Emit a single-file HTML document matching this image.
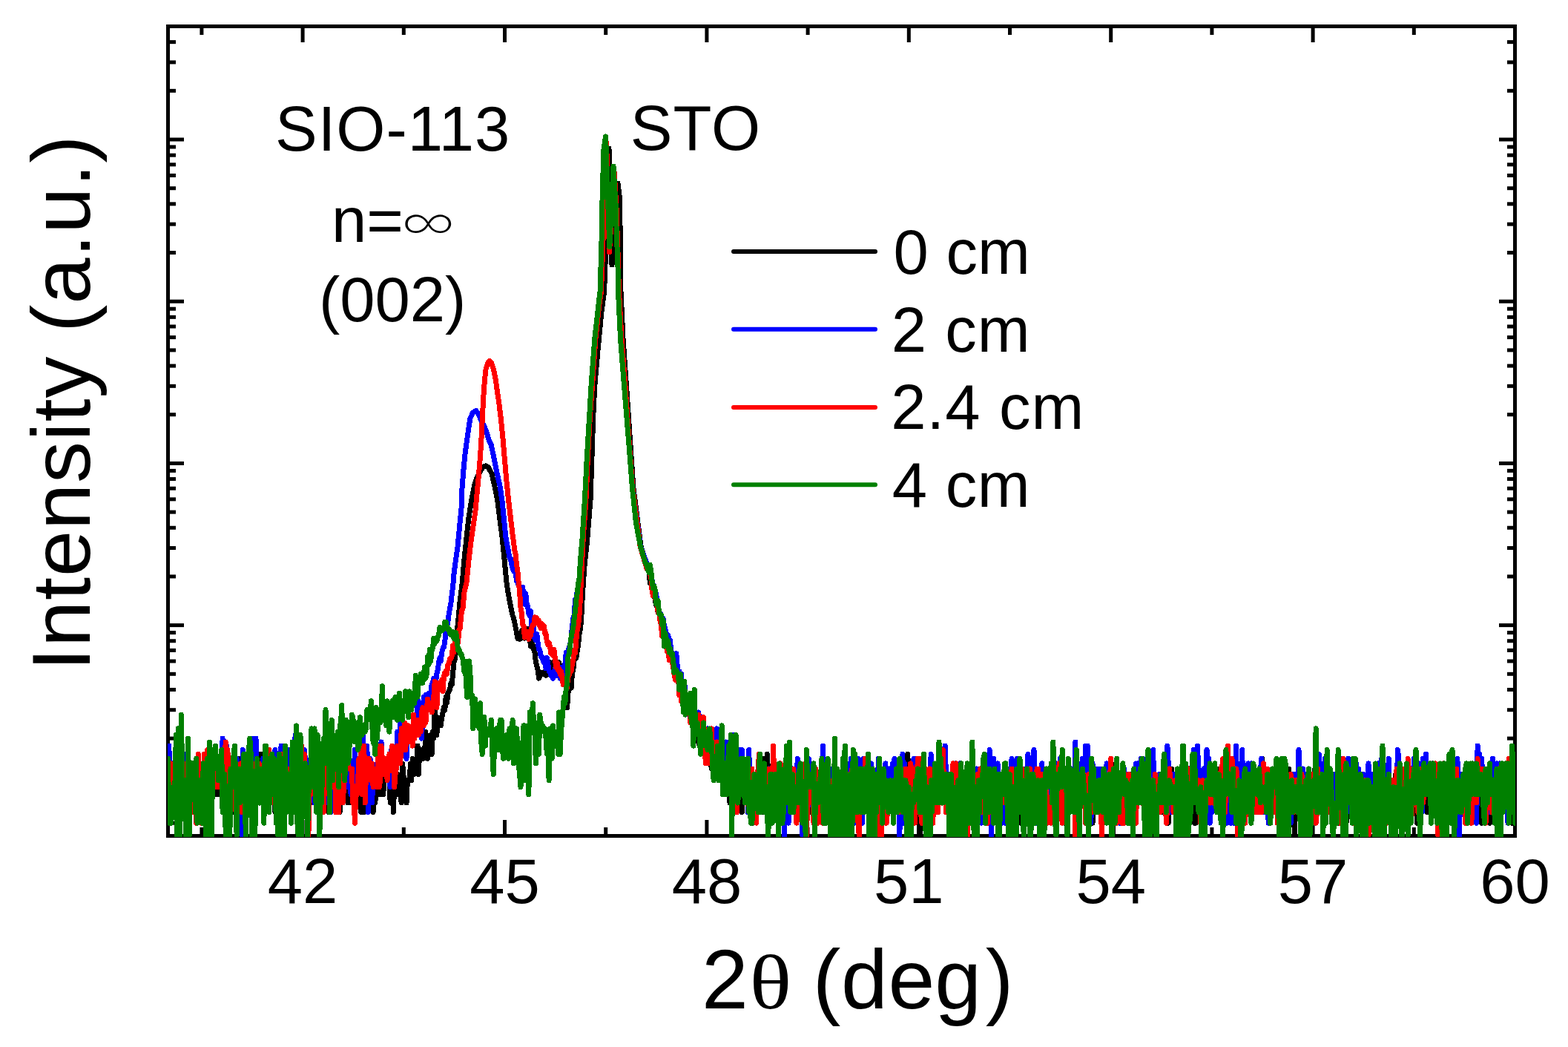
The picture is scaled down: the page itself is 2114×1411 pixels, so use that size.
<!DOCTYPE html>
<html><head><meta charset="utf-8"><style>
html,body{margin:0;padding:0;background:#fff;}
svg{display:block;}
text{font-family:"Liberation Sans",Arial,sans-serif;fill:#000;}
</style></head><body>
<svg width="2114" height="1411" viewBox="0 0 2114 1411">
<rect x="226.5" y="35.5" width="1816" height="1091" fill="none" stroke="#000" stroke-width="5"/>
<g fill="#000">
<rect x="405.60" y="1105.00" width="5.00" height="19.00"/>
<rect x="405.60" y="38.00" width="5.00" height="19.00"/>
<rect x="678.00" y="1105.00" width="5.00" height="19.00"/>
<rect x="678.00" y="38.00" width="5.00" height="19.00"/>
<rect x="950.40" y="1105.00" width="5.00" height="19.00"/>
<rect x="950.40" y="38.00" width="5.00" height="19.00"/>
<rect x="1222.80" y="1105.00" width="5.00" height="19.00"/>
<rect x="1222.80" y="38.00" width="5.00" height="19.00"/>
<rect x="1495.20" y="1105.00" width="5.00" height="19.00"/>
<rect x="1495.20" y="38.00" width="5.00" height="19.00"/>
<rect x="1767.60" y="1105.00" width="5.00" height="19.00"/>
<rect x="1767.60" y="38.00" width="5.00" height="19.00"/>
<rect x="269.40" y="1115.00" width="5.00" height="9.00"/>
<rect x="269.40" y="38.00" width="5.00" height="9.00"/>
<rect x="541.80" y="1115.00" width="5.00" height="9.00"/>
<rect x="541.80" y="38.00" width="5.00" height="9.00"/>
<rect x="814.20" y="1115.00" width="5.00" height="9.00"/>
<rect x="814.20" y="38.00" width="5.00" height="9.00"/>
<rect x="1086.60" y="1115.00" width="5.00" height="9.00"/>
<rect x="1086.60" y="38.00" width="5.00" height="9.00"/>
<rect x="1359.00" y="1115.00" width="5.00" height="9.00"/>
<rect x="1359.00" y="38.00" width="5.00" height="9.00"/>
<rect x="1631.40" y="1115.00" width="5.00" height="9.00"/>
<rect x="1631.40" y="38.00" width="5.00" height="9.00"/>
<rect x="1903.80" y="1115.00" width="5.00" height="9.00"/>
<rect x="1903.80" y="38.00" width="5.00" height="9.00"/>
<rect x="229.00" y="1106.72" width="8.00" height="5.00"/>
<rect x="2032.00" y="1106.72" width="8.00" height="5.00"/>
<rect x="229.00" y="1092.11" width="8.00" height="5.00"/>
<rect x="2032.00" y="1092.11" width="8.00" height="5.00"/>
<rect x="229.00" y="1079.46" width="8.00" height="5.00"/>
<rect x="2032.00" y="1079.46" width="8.00" height="5.00"/>
<rect x="229.00" y="1068.30" width="8.00" height="5.00"/>
<rect x="2032.00" y="1068.30" width="8.00" height="5.00"/>
<rect x="229.00" y="1058.32" width="19.00" height="5.00"/>
<rect x="2021.00" y="1058.32" width="19.00" height="5.00"/>
<rect x="229.00" y="992.63" width="8.00" height="5.00"/>
<rect x="2032.00" y="992.63" width="8.00" height="5.00"/>
<rect x="229.00" y="954.21" width="8.00" height="5.00"/>
<rect x="2032.00" y="954.21" width="8.00" height="5.00"/>
<rect x="229.00" y="926.95" width="8.00" height="5.00"/>
<rect x="2032.00" y="926.95" width="8.00" height="5.00"/>
<rect x="229.00" y="905.80" width="8.00" height="5.00"/>
<rect x="2032.00" y="905.80" width="8.00" height="5.00"/>
<rect x="229.00" y="888.52" width="8.00" height="5.00"/>
<rect x="2032.00" y="888.52" width="8.00" height="5.00"/>
<rect x="229.00" y="873.91" width="8.00" height="5.00"/>
<rect x="2032.00" y="873.91" width="8.00" height="5.00"/>
<rect x="229.00" y="861.26" width="8.00" height="5.00"/>
<rect x="2032.00" y="861.26" width="8.00" height="5.00"/>
<rect x="229.00" y="850.10" width="8.00" height="5.00"/>
<rect x="2032.00" y="850.10" width="8.00" height="5.00"/>
<rect x="229.00" y="840.12" width="19.00" height="5.00"/>
<rect x="2021.00" y="840.12" width="19.00" height="5.00"/>
<rect x="229.00" y="774.43" width="8.00" height="5.00"/>
<rect x="2032.00" y="774.43" width="8.00" height="5.00"/>
<rect x="229.00" y="736.01" width="8.00" height="5.00"/>
<rect x="2032.00" y="736.01" width="8.00" height="5.00"/>
<rect x="229.00" y="708.75" width="8.00" height="5.00"/>
<rect x="2032.00" y="708.75" width="8.00" height="5.00"/>
<rect x="229.00" y="687.60" width="8.00" height="5.00"/>
<rect x="2032.00" y="687.60" width="8.00" height="5.00"/>
<rect x="229.00" y="670.32" width="8.00" height="5.00"/>
<rect x="2032.00" y="670.32" width="8.00" height="5.00"/>
<rect x="229.00" y="655.71" width="8.00" height="5.00"/>
<rect x="2032.00" y="655.71" width="8.00" height="5.00"/>
<rect x="229.00" y="643.06" width="8.00" height="5.00"/>
<rect x="2032.00" y="643.06" width="8.00" height="5.00"/>
<rect x="229.00" y="631.90" width="8.00" height="5.00"/>
<rect x="2032.00" y="631.90" width="8.00" height="5.00"/>
<rect x="229.00" y="621.92" width="19.00" height="5.00"/>
<rect x="2021.00" y="621.92" width="19.00" height="5.00"/>
<rect x="229.00" y="556.23" width="8.00" height="5.00"/>
<rect x="2032.00" y="556.23" width="8.00" height="5.00"/>
<rect x="229.00" y="517.81" width="8.00" height="5.00"/>
<rect x="2032.00" y="517.81" width="8.00" height="5.00"/>
<rect x="229.00" y="490.55" width="8.00" height="5.00"/>
<rect x="2032.00" y="490.55" width="8.00" height="5.00"/>
<rect x="229.00" y="469.40" width="8.00" height="5.00"/>
<rect x="2032.00" y="469.40" width="8.00" height="5.00"/>
<rect x="229.00" y="452.12" width="8.00" height="5.00"/>
<rect x="2032.00" y="452.12" width="8.00" height="5.00"/>
<rect x="229.00" y="437.51" width="8.00" height="5.00"/>
<rect x="2032.00" y="437.51" width="8.00" height="5.00"/>
<rect x="229.00" y="424.86" width="8.00" height="5.00"/>
<rect x="2032.00" y="424.86" width="8.00" height="5.00"/>
<rect x="229.00" y="413.70" width="8.00" height="5.00"/>
<rect x="2032.00" y="413.70" width="8.00" height="5.00"/>
<rect x="229.00" y="403.72" width="19.00" height="5.00"/>
<rect x="2021.00" y="403.72" width="19.00" height="5.00"/>
<rect x="229.00" y="338.03" width="8.00" height="5.00"/>
<rect x="2032.00" y="338.03" width="8.00" height="5.00"/>
<rect x="229.00" y="299.61" width="8.00" height="5.00"/>
<rect x="2032.00" y="299.61" width="8.00" height="5.00"/>
<rect x="229.00" y="272.35" width="8.00" height="5.00"/>
<rect x="2032.00" y="272.35" width="8.00" height="5.00"/>
<rect x="229.00" y="251.20" width="8.00" height="5.00"/>
<rect x="2032.00" y="251.20" width="8.00" height="5.00"/>
<rect x="229.00" y="233.92" width="8.00" height="5.00"/>
<rect x="2032.00" y="233.92" width="8.00" height="5.00"/>
<rect x="229.00" y="219.31" width="8.00" height="5.00"/>
<rect x="2032.00" y="219.31" width="8.00" height="5.00"/>
<rect x="229.00" y="206.66" width="8.00" height="5.00"/>
<rect x="2032.00" y="206.66" width="8.00" height="5.00"/>
<rect x="229.00" y="195.50" width="8.00" height="5.00"/>
<rect x="2032.00" y="195.50" width="8.00" height="5.00"/>
<rect x="229.00" y="185.52" width="19.00" height="5.00"/>
<rect x="2021.00" y="185.52" width="19.00" height="5.00"/>
<rect x="229.00" y="119.83" width="8.00" height="5.00"/>
<rect x="2032.00" y="119.83" width="8.00" height="5.00"/>
<rect x="229.00" y="81.41" width="8.00" height="5.00"/>
<rect x="2032.00" y="81.41" width="8.00" height="5.00"/>
<rect x="229.00" y="54.15" width="8.00" height="5.00"/>
<rect x="2032.00" y="54.15" width="8.00" height="5.00"/>
</g>
<defs><clipPath id="cp"><rect x="226" y="35" width="1817" height="1093"/></clipPath></defs>
<g clip-path="url(#cp)" fill="none" stroke-width="7" stroke-linejoin="round" stroke-linecap="round" shape-rendering="crispEdges">
<path d="M226.5 1028.9L227.9 1051.8L229.2 1043.5L230.6 1060.8L231.9 1043.5L233.3 1060.8L234.7 1036.0L236.0 1060.8L237.4 1060.8L238.8 1060.8L240.1 1060.8L241.5 1070.8L242.8 1060.8L244.2 1082.0L245.6 1070.8L246.9 1051.8L248.3 1051.8L249.7 1051.8L251.0 1060.8L252.4 1043.5L253.7 1094.6L255.1 1060.8L256.5 1043.5L257.8 1060.8L259.2 1070.8L260.6 1051.8L261.9 1060.8L263.3 1070.8L264.6 1043.5L266.0 1060.8L267.4 1043.5L268.7 1036.0L270.1 1060.8L271.5 1036.0L272.8 1051.8L274.2 1036.0L275.5 1060.8L276.9 1051.8L278.3 1060.8L279.6 1060.8L281.0 1060.8L282.4 1043.5L283.7 1060.8L285.1 1070.8L286.4 1060.8L287.8 1022.4L289.2 1070.8L290.5 1060.8L291.9 1051.8L293.3 1070.8L294.6 1036.0L296.0 1043.5L297.3 1051.8L298.7 1070.8L300.1 1051.8L301.4 1070.8L302.8 1036.0L304.2 1060.8L305.5 1070.8L306.9 1051.8L308.2 1060.8L309.6 1022.4L311.0 1043.5L312.3 1070.8L313.7 1051.8L315.1 1094.6L316.4 1051.8L317.8 1043.5L319.1 1036.0L320.5 1070.8L321.9 1022.4L323.2 1036.0L324.6 1051.8L326.0 1043.5L327.3 1094.6L328.7 1022.4L330.0 1094.6L331.4 1036.0L332.8 1060.8L334.1 1082.0L335.5 1070.8L336.8 1028.9L338.2 1060.8L339.6 1070.8L340.9 1060.8L342.3 1043.5L343.7 1036.0L345.0 1082.0L346.4 1043.5L347.7 1043.5L349.1 1016.3L350.5 1070.8L351.8 1043.5L353.2 1016.3L354.6 1043.5L355.9 1028.9L357.3 1043.5L358.6 1043.5L360.0 1060.8L361.4 1036.0L362.7 1070.8L364.1 1070.8L365.5 1036.0L366.8 1082.0L368.2 1082.0L369.5 1060.8L370.9 1094.6L372.3 1036.0L373.6 1051.8L375.0 1060.8L376.4 1043.5L377.7 1036.0L379.1 1051.8L380.4 1082.0L381.8 1060.8L383.2 1070.8L384.5 1060.8L385.9 1036.0L387.3 1082.0L388.6 1051.8L390.0 1022.4L391.3 1060.8L392.7 1060.8L394.1 1060.8L395.4 1051.8L396.8 1043.5L398.2 1070.8L399.5 1043.5L400.9 1109.2L402.2 1060.8L403.6 1060.8L405.0 1060.8L406.3 1082.0L407.7 1070.8L409.1 1043.5L410.4 1036.0L411.8 1060.8L413.1 1036.0L414.5 1028.9L415.9 1028.9L417.2 1060.8L418.6 1082.0L420.0 1043.5L421.3 1070.8L422.7 1043.5L424.0 1036.0L425.4 1036.0L426.8 1043.5L428.1 1082.0L429.5 1028.9L430.9 1051.8L432.2 1043.5L433.6 1036.0L434.9 1060.8L436.3 1070.8L437.7 1051.8L439.0 1060.8L440.4 1060.8L441.7 1036.0L443.1 1094.6L444.5 1043.5L445.8 1043.5L447.2 1051.8L448.6 1060.8L449.9 1070.8L451.3 1028.9L452.6 1070.8L454.0 1094.6L455.4 1043.5L456.7 1010.5L458.1 1094.6L459.5 1043.5L460.8 1051.8L462.2 1082.0L463.5 1051.8L464.9 1060.8L466.3 1051.8L467.6 1060.8L469.0 1082.0L470.4 1043.5L471.7 1060.8L473.1 1051.8L474.4 1082.0L475.8 1070.8L477.2 1070.8L478.5 1051.8L479.9 1070.8L481.3 1043.5L482.6 1043.5L484.0 1051.8L485.3 1070.8L486.7 1094.6L488.1 1060.8L489.4 1060.8L490.8 1094.6L492.2 1051.8L493.5 1070.8L494.9 1070.8L496.2 1043.5L497.6 1036.0L499.0 1028.9L500.3 1070.8L501.7 1051.8L503.1 1094.6L504.4 1043.5L505.8 1082.0L507.1 1060.8L508.5 1070.8L509.9 1070.8L511.2 1070.8L512.6 1070.8L514.0 1070.8L515.3 1022.4L516.7 1070.8L518.0 1051.8L519.4 1051.8L520.8 1028.9L522.1 1043.5L523.5 1043.5L524.9 1051.8L526.2 1082.0L527.6 1070.8L528.9 1051.8L530.3 1094.6L531.7 1060.8L533.0 1060.8L534.4 1060.8L535.8 1043.5L537.1 1070.8L538.5 1070.8L539.8 1070.8L541.2 1082.0L542.6 1028.9L543.9 1043.5L545.3 1060.8L546.7 1070.8L548.0 1082.0L549.4 1051.8L550.7 1051.8L552.1 1051.8L553.5 1028.9L554.8 1051.8L556.2 1022.4L557.5 1028.9L558.9 1043.5L560.3 1036.0L561.6 1028.9L563.0 1005.1L564.4 1043.5L565.7 1010.5L567.1 1010.5L568.4 1016.3L569.8 1010.5L571.2 1022.4L572.5 1016.3L573.9 986.1L575.3 1005.1L576.6 1022.4L578.0 1005.1L579.3 995.1L580.7 990.5L582.1 1016.3L583.4 986.1L584.8 995.1L586.2 956.7L587.5 977.9L588.9 990.5L590.2 966.7L591.6 974.0L593.0 977.9L594.3 977.9L595.7 966.7L597.1 959.9L598.4 953.6L599.8 956.7L601.1 939.4L602.5 947.7L603.9 934.3L605.2 931.8L606.6 929.4L608.0 920.4L609.3 922.6L610.7 906.4L612.0 892.6L613.4 887.9L614.8 875.1L616.1 852.6L617.5 838.9L618.9 823.0L620.2 808.7L621.6 798.7L622.9 788.5L624.3 773.2L625.7 755.8L631.6 700.2L636.0 672.0L640.0 652.0L643.3 643.0L648.0 634.5L651.2 629.5L654.7 627.8L658.2 629.5L662.8 638.0L666.2 652.0L670.7 674.4L677.0 724.0L680.2 755.4L681.5 769.6L682.9 784.3L684.2 793.5L685.6 801.7L687.0 809.4L688.3 815.6L689.7 823.0L691.1 829.4L692.4 832.7L693.8 838.9L695.1 845.5L696.5 852.6L697.9 860.3L699.2 855.8L700.6 861.4L702.0 860.3L703.3 850.5L704.7 849.5L706.0 846.5L707.4 860.3L708.8 854.7L710.1 856.9L711.5 847.5L712.9 853.7L714.2 860.3L715.6 871.1L716.9 866.2L718.3 869.9L719.7 875.1L721.0 879.2L722.4 892.6L723.8 897.6L725.1 902.8L726.5 914.2L727.8 912.2L729.2 906.4L730.6 906.4L731.9 908.3L733.3 908.3L734.7 904.6L736.0 910.2L737.4 902.8L738.7 908.3L740.1 902.8L741.5 892.6L742.8 901.0L744.2 895.9L745.6 892.6L746.9 897.6L748.3 899.3L749.6 899.3L751.0 904.6L752.4 897.6L753.7 892.6L755.1 901.0L756.5 899.3L757.8 901.0L759.2 916.2L760.5 918.3L761.9 920.4L763.3 927.1L764.6 953.6L766.0 934.3L767.3 918.3L768.7 920.4L770.1 927.1L771.4 908.3L772.8 902.8L774.2 889.5L775.5 887.9L776.9 886.4L778.2 877.8L779.6 868.6L781.0 854.7L782.3 848.5L783.7 834.4L785.1 807.4L786.4 785.9L787.8 764.5L791.5 730.0L796.1 673.0L799.8 560.0L801.8 520.0L806.0 472.5L811.0 420.0L814.6 393.0L817.0 330.0L819.0 260.0L821.0 200.0L825.0 357.0L833.0 247.0L835.3 265.5L836.5 330.0L837.0 393.0L840.0 456.0L844.5 520.0L850.0 600.0L854.0 658.0L864.0 736.0L872.2 762.1L873.6 768.8L875.0 768.8L876.3 785.9L877.7 776.0L879.1 789.6L880.4 795.7L881.8 796.9L883.1 807.4L884.5 814.9L885.9 818.5L887.2 825.3L888.6 824.6L890.0 832.7L891.3 833.6L892.7 839.8L894.0 844.5L895.4 848.5L896.8 856.9L898.1 855.8L899.5 863.8L900.9 868.6L902.2 877.8L903.6 879.2L904.9 887.9L906.3 894.2L907.7 891.0L909.0 901.0L910.4 906.4L911.8 914.2L913.1 912.2L914.5 920.4L915.8 916.2L917.2 929.4L918.6 931.8L919.9 929.4L921.3 929.4L922.7 947.7L924.0 934.3L925.4 953.6L926.7 950.6L928.1 950.6L929.5 959.9L930.8 950.6L932.2 974.0L933.6 966.7L934.9 981.9L936.3 963.2L937.6 970.3L939.0 981.9L940.4 986.1L941.7 1000.0L943.1 1005.1L944.5 1000.0L945.8 995.1L947.2 990.5L948.5 1005.1L949.9 1010.5L951.3 990.5L952.6 986.1L954.0 1010.5L955.4 1022.4L956.7 995.1L958.1 1028.9L959.4 1036.0L960.8 1000.0L962.2 1043.5L963.5 1036.0L964.9 1028.9L966.3 1036.0L967.6 1016.3L969.0 1043.5L970.3 1000.0L971.7 1028.9L973.1 1022.4L974.4 1051.8L975.8 1010.5L977.1 1036.0L978.5 1043.5L979.9 1043.5L981.2 1022.4L982.6 1043.5L984.0 1082.0L985.3 1060.8L986.7 1060.8L988.0 1036.0L989.4 1060.8L990.8 1082.0L992.1 1082.0L993.5 1051.8L994.9 1082.0L996.2 1070.8L997.6 1082.0L998.9 1060.8L1000.3 1094.6L1001.7 1043.5L1003.0 1060.8L1004.4 1051.8L1005.8 1070.8L1007.1 1060.8L1008.5 1043.5L1009.8 1094.6L1011.2 1043.5L1012.6 1094.6L1013.9 1036.0L1015.3 1109.2L1016.7 1060.8L1018.0 1094.6L1019.4 1043.5L1020.7 1060.8L1022.1 1060.8L1023.5 1070.8L1024.8 1070.8L1026.2 1070.8L1027.6 1070.8L1028.9 1094.6L1030.3 1022.4L1031.6 1082.0L1033.0 1094.6L1034.4 1016.3L1035.7 1043.5L1037.1 1043.5L1038.5 1043.5L1039.8 1070.8L1041.2 1094.6L1042.5 1051.8L1043.9 1070.8L1045.3 1094.6L1046.6 1070.8L1048.0 1060.8L1049.4 1094.6L1050.7 1082.0L1052.1 1094.6L1053.4 1109.2L1054.8 1070.8L1056.2 1060.8L1057.5 1036.0L1058.9 1036.0L1060.3 1070.8L1061.6 1060.8L1063.0 1070.8L1064.3 1094.6L1065.7 1094.6L1067.1 1094.6L1068.4 1082.0L1069.8 1060.8L1071.2 1070.8L1072.5 1060.8L1073.9 1051.8L1075.2 1043.5L1076.6 1070.8L1078.0 1070.8L1079.3 1060.8L1080.7 1082.0L1082.0 1043.5L1083.4 1070.8L1084.8 1051.8L1086.1 1060.8L1087.5 1094.6L1088.9 1082.0L1090.2 1070.8L1091.6 1036.0L1092.9 1060.8L1094.3 1094.6L1095.7 1070.8L1097.0 1070.8L1098.4 1051.8L1099.8 1070.8L1101.1 1070.8L1102.5 1070.8L1103.8 1070.8L1105.2 1043.5L1106.6 1070.8L1107.9 1051.8L1109.3 1094.6L1110.7 1094.6L1112.0 1036.0L1113.4 1109.2L1114.7 1051.8L1116.1 1043.5L1117.5 1036.0L1118.8 1060.8L1120.2 1070.8L1121.6 1060.8L1122.9 1060.8L1124.3 1060.8L1125.6 1036.0L1127.0 1043.5L1128.4 1070.8L1129.7 1060.8L1131.1 1082.0L1132.5 1060.8L1133.8 1070.8L1135.2 1082.0L1136.5 1070.8L1137.9 1043.5L1139.3 1060.8L1140.6 1060.8L1142.0 1043.5L1143.4 1043.5L1144.7 1070.8L1146.1 1051.8L1147.4 1070.8L1148.8 1082.0L1150.2 1070.8L1151.5 1070.8L1152.9 1060.8L1154.3 1070.8L1155.6 1094.6L1157.0 1082.0L1158.3 1060.8L1159.7 1060.8L1161.1 1094.6L1162.4 1043.5L1163.8 1070.8L1165.2 1082.0L1166.5 1051.8L1167.9 1060.8L1169.2 1051.8L1170.6 1043.5L1172.0 1051.8L1173.3 1070.8L1174.7 1070.8L1176.1 1060.8L1177.4 1060.8L1178.8 1060.8L1180.1 1060.8L1181.5 1070.8L1182.9 1060.8L1184.2 1070.8L1185.6 1060.8L1187.0 1051.8L1188.3 1070.8L1189.7 1094.6L1191.0 1082.0L1192.4 1070.8L1193.8 1051.8L1195.1 1060.8L1196.5 1043.5L1197.8 1051.8L1199.2 1051.8L1200.6 1070.8L1201.9 1051.8L1203.3 1070.8L1204.7 1043.5L1206.0 1060.8L1207.4 1060.8L1208.7 1082.0L1210.1 1070.8L1211.5 1094.6L1212.8 1070.8L1214.2 1070.8L1215.6 1070.8L1216.9 1022.4L1218.3 1109.2L1219.6 1070.8L1221.0 1070.8L1222.4 1094.6L1223.7 1016.3L1225.1 1043.5L1226.5 1070.8L1227.8 1060.8L1229.2 1070.8L1230.5 1082.0L1231.9 1094.6L1233.3 1060.8L1234.6 1036.0L1236.0 1082.0L1237.4 1082.0L1238.7 1036.0L1240.1 1147.6L1241.4 1094.6L1242.8 1028.9L1244.2 1094.6L1245.5 1070.8L1246.9 1043.5L1248.3 1060.8L1249.6 1094.6L1251.0 1043.5L1252.3 1060.8L1253.7 1051.8L1255.1 1070.8L1256.4 1070.8L1257.8 1082.0L1259.2 1051.8L1260.5 1070.8L1261.9 1070.8L1263.2 1051.8L1264.6 1060.8L1266.0 1051.8L1267.3 1070.8L1268.7 1043.5L1270.1 1070.8L1271.4 1036.0L1272.8 1070.8L1274.1 1051.8L1275.5 1051.8L1276.9 1082.0L1278.2 1082.0L1279.6 1070.8L1281.0 1060.8L1282.3 1051.8L1283.7 1043.5L1285.0 1070.8L1286.4 1082.0L1287.8 1082.0L1289.1 1036.0L1290.5 1094.6L1291.9 1051.8L1293.2 1082.0L1294.6 1070.8L1295.9 1094.6L1297.3 1082.0L1298.7 1051.8L1300.0 1070.8L1301.4 1070.8L1302.7 1082.0L1304.1 1070.8L1305.5 1043.5L1306.8 1109.2L1308.2 1094.6L1309.6 1043.5L1310.9 1070.8L1312.3 1109.2L1313.6 1070.8L1315.0 1082.0L1316.4 1060.8L1317.7 1051.8L1319.1 1043.5L1320.5 1060.8L1321.8 1043.5L1323.2 1043.5L1324.5 1060.8L1325.9 1070.8L1327.3 1036.0L1328.6 1094.6L1330.0 1094.6L1331.4 1094.6L1332.7 1070.8L1334.1 1051.8L1335.4 1082.0L1336.8 1070.8L1338.2 1070.8L1339.5 1094.6L1340.9 1070.8L1342.3 1070.8L1343.6 1070.8L1345.0 1036.0L1346.3 1051.8L1347.7 1060.8L1349.1 1043.5L1350.4 1094.6L1351.8 1094.6L1353.2 1070.8L1354.5 1043.5L1355.9 1060.8L1357.2 1082.0L1358.6 1043.5L1360.0 1070.8L1361.3 1051.8L1362.7 1070.8L1364.1 1060.8L1365.4 1060.8L1366.8 1043.5L1368.1 1043.5L1369.5 1109.2L1370.9 1070.8L1372.2 1060.8L1373.6 1094.6L1375.0 1060.8L1376.3 1109.2L1377.7 1094.6L1379.0 1070.8L1380.4 1070.8L1381.8 1082.0L1383.1 1060.8L1384.5 1070.8L1385.9 1082.0L1387.2 1070.8L1388.6 1109.2L1389.9 1094.6L1391.3 1060.8L1392.7 1082.0L1394.0 1082.0L1395.4 1070.8L1396.8 1070.8L1398.1 1094.6L1399.5 1051.8L1400.8 1094.6L1402.2 1070.8L1403.6 1109.2L1404.9 1060.8L1406.3 1094.6L1407.6 1070.8L1409.0 1070.8L1410.4 1094.6L1411.7 1051.8L1413.1 1060.8L1414.5 1060.8L1415.8 1060.8L1417.2 1060.8L1418.5 1028.9L1419.9 1060.8L1421.3 1082.0L1422.6 1051.8L1424.0 1043.5L1425.4 1082.0L1426.7 1060.8L1428.1 1082.0L1429.4 1070.8L1430.8 1070.8L1432.2 1060.8L1433.5 1051.8L1434.9 1109.2L1436.3 1060.8L1437.6 1070.8L1439.0 1051.8L1440.3 1060.8L1441.7 1043.5L1443.1 1082.0L1444.4 1043.5L1445.8 1070.8L1447.2 1070.8L1448.5 1082.0L1449.9 1082.0L1451.2 1070.8L1452.6 1060.8L1454.0 1060.8L1455.3 1060.8L1456.7 1070.8L1458.1 1070.8L1459.4 1043.5L1460.8 1060.8L1462.1 1060.8L1463.5 1028.9L1464.9 1028.9L1466.2 1070.8L1467.6 1070.8L1469.0 1060.8L1470.3 1070.8L1471.7 1094.6L1473.0 1109.2L1474.4 1082.0L1475.8 1094.6L1477.1 1060.8L1478.5 1094.6L1479.9 1082.0L1481.2 1094.6L1482.6 1094.6L1483.9 1043.5L1485.3 1094.6L1486.7 1094.6L1488.0 1060.8L1489.4 1060.8L1490.8 1070.8L1492.1 1060.8L1493.5 1060.8L1494.8 1060.8L1496.2 1051.8L1497.6 1082.0L1498.9 1070.8L1500.3 1126.5L1501.7 1036.0L1503.0 1043.5L1504.4 1028.9L1505.7 1051.8L1507.1 1060.8L1508.5 1060.8L1509.8 1043.5L1511.2 1043.5L1512.5 1082.0L1513.9 1070.8L1515.3 1051.8L1516.6 1060.8L1518.0 1051.8L1519.4 1070.8L1520.7 1051.8L1522.1 1070.8L1523.4 1070.8L1524.8 1043.5L1526.2 1070.8L1527.5 1070.8L1528.9 1070.8L1530.3 1070.8L1531.6 1043.5L1533.0 1060.8L1534.3 1070.8L1535.7 1060.8L1537.1 1070.8L1538.4 1060.8L1539.8 1051.8L1541.2 1070.8L1542.5 1070.8L1543.9 1060.8L1545.2 1094.6L1546.6 1028.9L1548.0 1094.6L1549.3 1051.8L1550.7 1094.6L1552.1 1094.6L1553.4 1094.6L1554.8 1082.0L1556.1 1051.8L1557.5 1070.8L1558.9 1060.8L1560.2 1094.6L1561.6 1082.0L1563.0 1070.8L1564.3 1060.8L1565.7 1094.6L1567.0 1060.8L1568.4 1036.0L1569.8 1060.8L1571.1 1094.6L1572.5 1082.0L1573.9 1082.0L1575.2 1109.2L1576.6 1070.8L1577.9 1060.8L1579.3 1036.0L1580.7 1094.6L1582.0 1060.8L1583.4 1060.8L1584.8 1082.0L1586.1 1043.5L1587.5 1070.8L1588.8 1070.8L1590.2 1060.8L1591.6 1094.6L1592.9 1070.8L1594.3 1043.5L1595.7 1070.8L1597.0 1070.8L1598.4 1043.5L1599.7 1070.8L1601.1 1109.2L1602.5 1070.8L1603.8 1094.6L1605.2 1070.8L1606.6 1082.0L1607.9 1082.0L1609.3 1060.8L1610.6 1109.2L1612.0 1109.2L1613.4 1051.8L1614.7 1060.8L1616.1 1043.5L1617.4 1060.8L1618.8 1070.8L1620.2 1094.6L1621.5 1082.0L1622.9 1109.2L1624.3 1082.0L1625.6 1109.2L1627.0 1036.0L1628.3 1094.6L1629.7 1070.8L1631.1 1060.8L1632.4 1094.6L1633.8 1060.8L1635.2 1082.0L1636.5 1043.5L1637.9 1082.0L1639.2 1043.5L1640.6 1094.6L1642.0 1060.8L1643.3 1070.8L1644.7 1036.0L1646.1 1043.5L1647.4 1082.0L1648.8 1060.8L1650.1 1070.8L1651.5 1070.8L1652.9 1094.6L1654.2 1070.8L1655.6 1043.5L1657.0 1043.5L1658.3 1070.8L1659.7 1094.6L1661.0 1060.8L1662.4 1060.8L1663.8 1036.0L1665.1 1094.6L1666.5 1070.8L1667.9 1060.8L1669.2 1070.8L1670.6 1051.8L1671.9 1109.2L1673.3 1070.8L1674.7 1043.5L1676.0 1109.2L1677.4 1051.8L1678.8 1060.8L1680.1 1070.8L1681.5 1060.8L1682.8 1060.8L1684.2 1094.6L1685.6 1070.8L1686.9 1070.8L1688.3 1094.6L1689.7 1051.8L1691.0 1060.8L1692.4 1051.8L1693.7 1043.5L1695.1 1060.8L1696.5 1060.8L1697.8 1036.0L1699.2 1036.0L1700.6 1060.8L1701.9 1022.4L1703.3 1070.8L1704.6 1082.0L1706.0 1070.8L1707.4 1070.8L1708.7 1043.5L1710.1 1109.2L1711.5 1043.5L1712.8 1060.8L1714.2 1094.6L1715.5 1036.0L1716.9 1094.6L1718.3 1070.8L1719.6 1060.8L1721.0 1070.8L1722.3 1060.8L1723.7 1070.8L1725.1 1051.8L1726.4 1060.8L1727.8 1043.5L1729.2 1070.8L1730.5 1060.8L1731.9 1043.5L1733.2 1109.2L1734.6 1051.8L1736.0 1070.8L1737.3 1036.0L1738.7 1094.6L1740.1 1082.0L1741.4 1082.0L1742.8 1094.6L1744.1 1094.6L1745.5 1126.5L1746.9 1060.8L1748.2 1060.8L1749.6 1094.6L1751.0 1043.5L1752.3 1060.8L1753.7 1070.8L1755.0 1094.6L1756.4 1082.0L1757.8 1070.8L1759.1 1060.8L1760.5 1070.8L1761.9 1043.5L1763.2 1094.6L1764.6 1060.8L1765.9 1082.0L1767.3 1082.0L1768.7 1043.5L1770.0 1070.8L1771.4 1043.5L1772.8 1036.0L1774.1 1051.8L1775.5 1070.8L1776.8 1094.6L1778.2 1028.9L1779.6 1060.8L1780.9 1094.6L1782.3 1060.8L1783.7 1060.8L1785.0 1043.5L1786.4 1082.0L1787.7 1094.6L1789.1 1060.8L1790.5 1070.8L1791.8 1043.5L1793.2 1060.8L1794.6 1094.6L1795.9 1070.8L1797.3 1070.8L1798.6 1060.8L1800.0 1060.8L1801.4 1070.8L1802.7 1051.8L1804.1 1109.2L1805.5 1094.6L1806.8 1082.0L1808.2 1082.0L1809.5 1043.5L1810.9 1036.0L1812.3 1060.8L1813.6 1082.0L1815.0 1109.2L1816.4 1082.0L1817.7 1060.8L1819.1 1060.8L1820.4 1070.8L1821.8 1060.8L1823.2 1060.8L1824.5 1060.8L1825.9 1036.0L1827.3 1043.5L1828.6 1060.8L1830.0 1060.8L1831.3 1070.8L1832.7 1043.5L1834.1 1094.6L1835.4 1043.5L1836.8 1094.6L1838.1 1070.8L1839.5 1070.8L1840.9 1060.8L1842.2 1070.8L1843.6 1094.6L1845.0 1060.8L1846.3 1094.6L1847.7 1070.8L1849.0 1109.2L1850.4 1094.6L1851.8 1070.8L1853.1 1070.8L1854.5 1094.6L1855.9 1070.8L1857.2 1051.8L1858.6 1060.8L1859.9 1051.8L1861.3 1043.5L1862.7 1094.6L1864.0 1070.8L1865.4 1060.8L1866.8 1036.0L1868.1 1060.8L1869.5 1043.5L1870.8 1060.8L1872.2 1094.6L1873.6 1094.6L1874.9 1109.2L1876.3 1082.0L1877.7 1070.8L1879.0 1060.8L1880.4 1060.8L1881.7 1043.5L1883.1 1070.8L1884.5 1028.9L1885.8 1060.8L1887.2 1070.8L1888.6 1094.6L1889.9 1094.6L1891.3 1070.8L1892.6 1082.0L1894.0 1082.0L1895.4 1070.8L1896.7 1051.8L1898.1 1094.6L1899.5 1060.8L1900.8 1060.8L1902.2 1060.8L1903.5 1070.8L1904.9 1094.6L1906.3 1070.8L1907.6 1060.8L1909.0 1060.8L1910.4 1109.2L1911.7 1070.8L1913.1 1070.8L1914.4 1070.8L1915.8 1094.6L1917.2 1094.6L1918.5 1060.8L1919.9 1028.9L1921.3 1060.8L1922.6 1082.0L1924.0 1094.6L1925.3 1051.8L1926.7 1043.5L1928.1 1060.8L1929.4 1094.6L1930.8 1060.8L1932.2 1060.8L1933.5 1070.8L1934.9 1043.5L1936.2 1070.8L1937.6 1094.6L1939.0 1094.6L1940.3 1036.0L1941.7 1070.8L1943.0 1094.6L1944.4 1070.8L1945.8 1109.2L1947.1 1070.8L1948.5 1070.8L1949.9 1070.8L1951.2 1060.8L1952.6 1060.8L1953.9 1070.8L1955.3 1070.8L1956.7 1060.8L1958.0 1070.8L1959.4 1082.0L1960.8 1070.8L1962.1 1070.8L1963.5 1070.8L1964.8 1060.8L1966.2 1070.8L1967.6 1070.8L1968.9 1070.8L1970.3 1060.8L1971.7 1051.8L1973.0 1082.0L1974.4 1051.8L1975.7 1082.0L1977.1 1070.8L1978.5 1094.6L1979.8 1070.8L1981.2 1070.8L1982.6 1070.8L1983.9 1070.8L1985.3 1082.0L1986.6 1070.8L1988.0 1043.5L1989.4 1043.5L1990.7 1036.0L1992.1 1060.8L1993.5 1094.6L1994.8 1070.8L1996.2 1094.6L1997.5 1109.2L1998.9 1070.8L2000.3 1070.8L2001.6 1070.8L2003.0 1109.2L2004.4 1060.8L2005.7 1082.0L2007.1 1070.8L2008.4 1109.2L2009.8 1070.8L2011.2 1060.8L2012.5 1082.0L2013.9 1043.5L2015.3 1094.6L2016.6 1070.8L2018.0 1094.6L2019.3 1094.6L2020.7 1051.8L2022.1 1060.8L2023.4 1094.6L2024.8 1051.8L2026.2 1060.8L2027.5 1051.8L2028.9 1060.8L2030.2 1060.8L2031.6 1051.8L2033.0 1060.8L2034.3 1094.6L2035.7 1070.8L2037.1 1070.8L2038.4 1109.2L2039.8 1060.8L2041.1 1043.5L2042.5 1094.6" stroke="#000"/>
<path d="M226.5 1070.8L227.9 1005.1L229.2 1082.0L230.6 1036.0L231.9 1028.9L233.3 1028.9L234.7 1094.6L236.0 1060.8L237.4 1051.8L238.8 1010.5L240.1 1051.8L241.5 1051.8L242.8 1060.8L244.2 1082.0L245.6 1051.8L246.9 1043.5L248.3 1016.3L249.7 1028.9L251.0 1051.8L252.4 1028.9L253.7 1016.3L255.1 1051.8L256.5 1036.0L257.8 1094.6L259.2 1036.0L260.6 1036.0L261.9 1051.8L263.3 1051.8L264.6 1060.8L266.0 1082.0L267.4 1043.5L268.7 1051.8L270.1 1060.8L271.5 1060.8L272.8 1028.9L274.2 1028.9L275.5 1028.9L276.9 1028.9L278.3 1060.8L279.6 1022.4L281.0 1051.8L282.4 1010.5L283.7 1060.8L285.1 1010.5L286.4 1060.8L287.8 1036.0L289.2 1060.8L290.5 1051.8L291.9 1022.4L293.3 1022.4L294.6 1028.9L296.0 1036.0L297.3 1028.9L298.7 1043.5L300.1 995.1L301.4 1016.3L302.8 1010.5L304.2 1000.0L305.5 1005.1L306.9 1028.9L308.2 1109.2L309.6 1051.8L311.0 1036.0L312.3 1036.0L313.7 1043.5L315.1 1051.8L316.4 1060.8L317.8 1051.8L319.1 1022.4L320.5 1082.0L321.9 1060.8L323.2 1094.6L324.6 1028.9L326.0 1126.5L327.3 1010.5L328.7 1028.9L330.0 1051.8L331.4 1060.8L332.8 1016.3L334.1 1082.0L335.5 1082.0L336.8 1043.5L338.2 1010.5L339.6 1051.8L340.9 995.1L342.3 1051.8L343.7 1028.9L345.0 995.1L346.4 1060.8L347.7 1051.8L349.1 1043.5L350.5 1051.8L351.8 1051.8L353.2 1051.8L354.6 1022.4L355.9 1060.8L357.3 1028.9L358.6 1051.8L360.0 1060.8L361.4 1051.8L362.7 1028.9L364.1 1051.8L365.5 1070.8L366.8 1036.0L368.2 1051.8L369.5 1043.5L370.9 1010.5L372.3 1028.9L373.6 1082.0L375.0 1028.9L376.4 1022.4L377.7 1028.9L379.1 1005.1L380.4 1016.3L381.8 1082.0L383.2 1028.9L384.5 1051.8L385.9 1010.5L387.3 1022.4L388.6 1028.9L390.0 1010.5L391.3 1022.4L392.7 1060.8L394.1 1070.8L395.4 1051.8L396.8 1010.5L398.2 990.5L399.5 1043.5L400.9 1082.0L402.2 1060.8L403.6 1043.5L405.0 1036.0L406.3 1051.8L407.7 1036.0L409.1 1060.8L410.4 1010.5L411.8 1028.9L413.1 1070.8L414.5 1082.0L415.9 1036.0L417.2 1051.8L418.6 1022.4L420.0 1051.8L421.3 1051.8L422.7 1022.4L424.0 1082.0L425.4 1028.9L426.8 1051.8L428.1 1051.8L429.5 1010.5L430.9 1022.4L432.2 1036.0L433.6 1036.0L434.9 1010.5L436.3 1036.0L437.7 1082.0L439.0 1028.9L440.4 1036.0L441.7 1082.0L443.1 1070.8L444.5 1036.0L445.8 1094.6L447.2 1060.8L448.6 1051.8L449.9 1036.0L451.3 1043.5L452.6 1051.8L454.0 1005.1L455.4 1016.3L456.7 1043.5L458.1 1028.9L459.5 1051.8L460.8 1016.3L462.2 1010.5L463.5 1051.8L464.9 1043.5L466.3 1036.0L467.6 1036.0L469.0 1060.8L470.4 1010.5L471.7 1060.8L473.1 1070.8L474.4 1036.0L475.8 1051.8L477.2 1043.5L478.5 1010.5L479.9 1060.8L481.3 1060.8L482.6 1060.8L484.0 1043.5L485.3 1051.8L486.7 1022.4L488.1 1028.9L489.4 990.5L490.8 1051.8L492.2 1043.5L493.5 1028.9L494.9 1005.1L496.2 1094.6L497.6 1070.8L499.0 1022.4L500.3 1043.5L501.7 1082.0L503.1 1036.0L504.4 1043.5L505.8 1036.0L507.1 1043.5L508.5 1028.9L509.9 1051.8L511.2 1036.0L512.6 1010.5L514.0 1000.0L515.3 1036.0L516.7 1028.9L518.0 1028.9L519.4 1036.0L520.8 1022.4L522.1 1028.9L523.5 1022.4L524.9 1051.8L526.2 1060.8L527.6 1010.5L528.9 1022.4L530.3 1010.5L531.7 1028.9L533.0 1016.3L534.4 1016.3L535.8 986.1L537.1 995.1L538.5 1005.1L539.8 974.0L541.2 995.1L542.6 970.3L543.9 1000.0L545.3 995.1L546.7 1000.0L548.0 1022.4L549.4 990.5L550.7 977.9L552.1 986.1L553.5 990.5L554.8 986.1L556.2 981.9L557.5 990.5L558.9 970.3L560.3 990.5L561.6 990.5L563.0 942.1L564.4 966.7L565.7 986.1L567.1 986.1L568.4 995.1L569.8 970.3L571.2 939.4L572.5 963.2L573.9 936.8L575.3 944.8L576.6 950.6L578.0 934.3L579.3 936.8L580.7 939.4L582.1 922.6L583.4 920.4L584.8 914.2L586.2 914.2L587.5 918.3L588.9 908.3L590.2 902.8L591.6 892.6L593.0 886.4L594.3 891.0L595.7 879.2L597.1 873.7L598.4 872.4L599.8 865.0L601.1 845.5L602.5 846.5L603.9 837.1L605.2 827.7L606.6 820.0L608.0 812.1L609.3 800.5L610.7 789.6L612.0 773.7L613.4 762.5L617.1 736.4L620.5 700.0L621.9 688.2L623.1 655.8L625.1 631.5L627.1 611.3L629.8 591.2L633.8 564.2L637.5 556.0L641.9 553.5L645.0 558.0L648.0 565.0L651.5 572.0L655.4 580.4L659.4 593.8L662.1 599.2L666.2 618.0L670.2 638.3L674.2 655.8L677.0 675.0L681.9 724.0L687.0 751.3L688.3 752.8L689.7 760.4L691.1 766.2L692.4 769.6L693.8 767.5L695.1 770.5L696.5 783.3L697.9 784.8L699.2 788.5L700.6 790.1L702.0 792.3L703.3 798.1L704.7 791.2L706.0 801.7L707.4 814.2L708.8 799.9L710.1 813.5L711.5 817.0L712.9 826.9L714.2 829.4L715.6 823.8L716.9 848.5L718.3 839.8L719.7 848.5L721.0 860.3L722.4 862.6L723.8 854.7L725.1 866.2L726.5 875.1L727.8 876.4L729.2 884.9L730.6 884.9L731.9 889.5L733.3 892.6L734.7 887.9L736.0 901.0L737.4 886.4L738.7 894.2L740.1 904.6L741.5 906.4L742.8 910.2L744.2 912.2L745.6 914.2L746.9 908.3L748.3 901.0L749.6 908.3L751.0 910.2L752.4 906.4L753.7 904.6L755.1 914.2L756.5 899.3L757.8 912.2L759.2 910.2L760.5 897.6L761.9 894.2L763.3 879.2L764.6 882.0L766.0 877.8L767.3 872.4L768.7 868.6L770.1 859.1L771.4 845.5L772.8 832.7L774.2 828.6L775.5 808.1L776.9 808.1L778.2 796.9L779.6 792.3L781.0 779.8L782.3 765.3L783.7 746.4L785.1 732.4L788.8 673.0L791.8 616.0L795.2 560.0L798.2 520.0L803.0 456.0L808.0 410.0L810.3 393.0L812.5 340.0L815.0 260.0L817.6 192.0L821.5 340.0L828.2 232.0L831.0 280.0L833.0 340.0L834.5 393.0L838.0 456.0L843.0 520.0L848.5 600.0L853.0 658.0L863.4 736.0L872.2 760.0L873.6 763.3L875.0 771.4L876.3 766.6L877.7 771.9L879.1 781.8L880.4 788.0L881.8 796.3L883.1 796.3L884.5 799.9L885.9 809.4L887.2 817.0L888.6 822.2L890.0 832.7L891.3 827.7L892.7 833.6L894.0 833.6L895.4 842.6L896.8 847.5L898.1 853.7L899.5 854.7L900.9 856.9L902.2 865.0L903.6 862.6L904.9 882.0L906.3 879.2L907.7 891.0L909.0 887.9L910.4 886.4L911.8 880.6L913.1 895.9L914.5 912.2L915.8 904.6L917.2 918.3L918.6 908.3L919.9 936.8L921.3 920.4L922.7 918.3L924.0 936.8L925.4 944.8L926.7 944.8L928.1 963.2L929.5 942.1L930.8 944.8L932.2 944.8L933.6 963.2L934.9 944.8L936.3 963.2L937.6 963.2L939.0 959.9L940.4 970.3L941.7 959.9L943.1 970.3L944.5 970.3L945.8 986.1L947.2 970.3L948.5 990.5L949.9 990.5L951.3 990.5L952.6 1016.3L954.0 981.9L955.4 1010.5L956.7 1005.1L958.1 995.1L959.4 995.1L960.8 1000.0L962.2 1016.3L963.5 1000.0L964.9 1016.3L966.3 981.9L967.6 1010.5L969.0 990.5L970.3 1005.1L971.7 1016.3L973.1 1051.8L974.4 1051.8L975.8 1005.1L977.1 1010.5L978.5 1000.0L979.9 1060.8L981.2 1028.9L982.6 1016.3L984.0 1000.0L985.3 1016.3L986.7 1022.4L988.0 1005.1L989.4 990.5L990.8 1010.5L992.1 1028.9L993.5 1028.9L994.9 1060.8L996.2 1051.8L997.6 1010.5L998.9 1051.8L1000.3 1010.5L1001.7 1028.9L1003.0 1051.8L1004.4 1051.8L1005.8 1060.8L1007.1 1051.8L1008.5 1094.6L1009.8 1010.5L1011.2 1082.0L1012.6 1070.8L1013.9 1043.5L1015.3 1070.8L1016.7 1094.6L1018.0 1043.5L1019.4 1094.6L1020.7 1094.6L1022.1 1082.0L1023.5 1070.8L1024.8 1070.8L1026.2 1094.6L1027.6 1051.8L1028.9 1043.5L1030.3 1082.0L1031.6 1043.5L1033.0 1043.5L1034.4 1070.8L1035.7 1043.5L1037.1 1036.0L1038.5 1070.8L1039.8 1060.8L1041.2 1043.5L1042.5 1043.5L1043.9 1060.8L1045.3 1070.8L1046.6 1043.5L1048.0 1094.6L1049.4 1060.8L1050.7 1028.9L1052.1 1082.0L1053.4 1070.8L1054.8 1070.8L1056.2 1070.8L1057.5 1126.5L1058.9 1070.8L1060.3 1070.8L1061.6 1043.5L1063.0 1109.2L1064.3 1070.8L1065.7 1070.8L1067.1 1070.8L1068.4 1036.0L1069.8 1060.8L1071.2 1060.8L1072.5 1043.5L1073.9 1060.8L1075.2 1022.4L1076.6 1060.8L1078.0 1070.8L1079.3 1094.6L1080.7 1043.5L1082.0 1126.5L1083.4 1070.8L1084.8 1060.8L1086.1 1060.8L1087.5 1070.8L1088.9 1094.6L1090.2 1022.4L1091.6 1036.0L1092.9 1051.8L1094.3 1036.0L1095.7 1082.0L1097.0 1060.8L1098.4 1060.8L1099.8 1070.8L1101.1 1043.5L1102.5 1070.8L1103.8 1070.8L1105.2 1070.8L1106.6 1060.8L1107.9 1070.8L1109.3 1005.1L1110.7 1051.8L1112.0 1070.8L1113.4 1070.8L1114.7 1082.0L1116.1 1028.9L1117.5 1070.8L1118.8 1070.8L1120.2 1043.5L1121.6 1036.0L1122.9 1070.8L1124.3 1051.8L1125.6 1094.6L1127.0 1082.0L1128.4 1070.8L1129.7 1094.6L1131.1 1082.0L1132.5 1060.8L1133.8 1043.5L1135.2 1070.8L1136.5 1028.9L1137.9 1051.8L1139.3 1070.8L1140.6 1082.0L1142.0 1060.8L1143.4 1043.5L1144.7 1051.8L1146.1 1036.0L1147.4 1022.4L1148.8 1043.5L1150.2 1036.0L1151.5 1109.2L1152.9 1060.8L1154.3 1043.5L1155.6 1070.8L1157.0 1022.4L1158.3 1082.0L1159.7 1070.8L1161.1 1070.8L1162.4 1109.2L1163.8 1022.4L1165.2 1070.8L1166.5 1070.8L1167.9 1070.8L1169.2 1043.5L1170.6 1036.0L1172.0 1070.8L1173.3 1070.8L1174.7 1028.9L1176.1 1070.8L1177.4 1043.5L1178.8 1070.8L1180.1 1070.8L1181.5 1109.2L1182.9 1109.2L1184.2 1022.4L1185.6 1028.9L1187.0 1060.8L1188.3 1070.8L1189.7 1070.8L1191.0 1070.8L1192.4 1070.8L1193.8 1028.9L1195.1 1094.6L1196.5 1043.5L1197.8 1036.0L1199.2 1060.8L1200.6 1070.8L1201.9 1043.5L1203.3 1028.9L1204.7 1070.8L1206.0 1022.4L1207.4 1028.9L1208.7 1070.8L1210.1 1043.5L1211.5 1043.5L1212.8 1126.5L1214.2 1070.8L1215.6 1043.5L1216.9 1016.3L1218.3 1109.2L1219.6 1028.9L1221.0 1070.8L1222.4 1043.5L1223.7 1082.0L1225.1 1036.0L1226.5 1043.5L1227.8 1051.8L1229.2 1028.9L1230.5 1051.8L1231.9 1022.4L1233.3 1060.8L1234.6 1022.4L1236.0 1070.8L1237.4 1028.9L1238.7 1070.8L1240.1 1070.8L1241.4 1043.5L1242.8 1022.4L1244.2 1051.8L1245.5 1043.5L1246.9 1043.5L1248.3 1070.8L1249.6 1109.2L1251.0 1070.8L1252.3 1060.8L1253.7 1070.8L1255.1 1016.3L1256.4 1094.6L1257.8 1043.5L1259.2 1043.5L1260.5 1051.8L1261.9 1051.8L1263.2 1051.8L1264.6 1060.8L1266.0 1036.0L1267.3 1070.8L1268.7 1060.8L1270.1 1028.9L1271.4 1043.5L1272.8 1028.9L1274.1 1005.1L1275.5 1043.5L1276.9 1043.5L1278.2 1051.8L1279.6 1043.5L1281.0 1051.8L1282.3 1070.8L1283.7 1082.0L1285.0 1051.8L1286.4 1051.8L1287.8 1028.9L1289.1 1094.6L1290.5 1070.8L1291.9 1051.8L1293.2 1043.5L1294.6 1028.9L1295.9 1109.2L1297.3 1082.0L1298.7 1109.2L1300.0 1043.5L1301.4 1082.0L1302.7 1051.8L1304.1 1070.8L1305.5 1070.8L1306.8 1070.8L1308.2 1094.6L1309.6 1043.5L1310.9 1043.5L1312.3 1043.5L1313.6 1051.8L1315.0 1051.8L1316.4 1036.0L1317.7 1070.8L1319.1 1060.8L1320.5 1082.0L1321.8 1060.8L1323.2 1109.2L1324.5 1070.8L1325.9 1043.5L1327.3 1082.0L1328.6 1070.8L1330.0 1043.5L1331.4 1070.8L1332.7 1070.8L1334.1 1010.5L1335.4 1022.4L1336.8 1126.5L1338.2 1022.4L1339.5 1022.4L1340.9 1051.8L1342.3 1060.8L1343.6 1060.8L1345.0 1028.9L1346.3 1051.8L1347.7 1051.8L1349.1 1070.8L1350.4 1109.2L1351.8 1060.8L1353.2 1094.6L1354.5 1094.6L1355.9 1109.2L1357.2 1043.5L1358.6 1109.2L1360.0 1060.8L1361.3 1109.2L1362.7 1043.5L1364.1 1022.4L1365.4 1060.8L1366.8 1043.5L1368.1 1070.8L1369.5 1051.8L1370.9 1022.4L1372.2 1070.8L1373.6 1070.8L1375.0 1060.8L1376.3 1043.5L1377.7 1060.8L1379.0 1070.8L1380.4 1070.8L1381.8 1036.0L1383.1 1094.6L1384.5 1094.6L1385.9 1016.3L1387.2 1043.5L1388.6 1109.2L1389.9 1060.8L1391.3 1060.8L1392.7 1043.5L1394.0 1010.5L1395.4 1082.0L1396.8 1109.2L1398.1 1070.8L1399.5 1043.5L1400.8 1051.8L1402.2 1051.8L1403.6 1051.8L1404.9 1028.9L1406.3 1082.0L1407.6 1051.8L1409.0 1036.0L1410.4 1043.5L1411.7 1082.0L1413.1 1043.5L1414.5 1070.8L1415.8 1036.0L1417.2 1043.5L1418.5 1043.5L1419.9 1043.5L1421.3 1060.8L1422.6 1060.8L1424.0 1028.9L1425.4 1070.8L1426.7 1094.6L1428.1 1070.8L1429.4 1022.4L1430.8 1082.0L1432.2 1016.3L1433.5 1070.8L1434.9 1043.5L1436.3 1051.8L1437.6 1109.2L1439.0 1043.5L1440.3 1060.8L1441.7 1082.0L1443.1 1043.5L1444.4 1036.0L1445.8 1043.5L1447.2 1070.8L1448.5 1070.8L1449.9 1000.0L1451.2 1109.2L1452.6 1036.0L1454.0 1028.9L1455.3 1043.5L1456.7 1043.5L1458.1 1070.8L1459.4 1022.4L1460.8 1036.0L1462.1 1082.0L1463.5 1005.1L1464.9 1036.0L1466.2 1005.1L1467.6 1051.8L1469.0 1070.8L1470.3 1109.2L1471.7 1094.6L1473.0 1028.9L1474.4 1060.8L1475.8 1060.8L1477.1 1036.0L1478.5 1060.8L1479.9 1060.8L1481.2 1051.8L1482.6 1036.0L1483.9 1036.0L1485.3 1070.8L1486.7 1070.8L1488.0 1060.8L1489.4 1036.0L1490.8 1051.8L1492.1 1028.9L1493.5 1036.0L1494.8 1051.8L1496.2 1109.2L1497.6 1109.2L1498.9 1051.8L1500.3 1070.8L1501.7 1070.8L1503.0 1036.0L1504.4 1094.6L1505.7 1060.8L1507.1 1043.5L1508.5 1043.5L1509.8 1109.2L1511.2 1082.0L1512.5 1043.5L1513.9 1060.8L1515.3 1036.0L1516.6 1070.8L1518.0 1043.5L1519.4 1051.8L1520.7 1051.8L1522.1 1082.0L1523.4 1082.0L1524.8 1109.2L1526.2 1051.8L1527.5 1070.8L1528.9 1060.8L1530.3 1109.2L1531.6 1028.9L1533.0 1051.8L1534.3 1028.9L1535.7 1051.8L1537.1 1060.8L1538.4 1022.4L1539.8 1060.8L1541.2 1022.4L1542.5 1070.8L1543.9 1043.5L1545.2 1109.2L1546.6 1043.5L1548.0 1051.8L1549.3 1060.8L1550.7 1043.5L1552.1 1043.5L1553.4 1082.0L1554.8 1010.5L1556.1 1094.6L1557.5 1070.8L1558.9 1060.8L1560.2 1094.6L1561.6 1060.8L1563.0 1043.5L1564.3 1082.0L1565.7 1070.8L1567.0 1051.8L1568.4 1051.8L1569.8 1043.5L1571.1 1036.0L1572.5 1060.8L1573.9 1005.1L1575.2 1028.9L1576.6 1043.5L1577.9 1043.5L1579.3 1094.6L1580.7 1070.8L1582.0 1043.5L1583.4 1043.5L1584.8 1060.8L1586.1 1070.8L1587.5 1043.5L1588.8 1094.6L1590.2 1043.5L1591.6 1060.8L1592.9 1036.0L1594.3 1051.8L1595.7 1043.5L1597.0 1082.0L1598.4 1082.0L1599.7 1082.0L1601.1 1070.8L1602.5 1043.5L1603.8 1036.0L1605.2 1070.8L1606.6 1082.0L1607.9 1051.8L1609.3 1010.5L1610.6 1060.8L1612.0 1070.8L1613.4 1043.5L1614.7 1005.1L1616.1 1060.8L1617.4 1051.8L1618.8 1070.8L1620.2 1043.5L1621.5 1043.5L1622.9 1036.0L1624.3 1094.6L1625.6 1060.8L1627.0 1010.5L1628.3 1022.4L1629.7 1022.4L1631.1 1109.2L1632.4 1043.5L1633.8 1094.6L1635.2 1051.8L1636.5 1070.8L1637.9 1060.8L1639.2 1082.0L1640.6 1070.8L1642.0 1082.0L1643.3 1082.0L1644.7 1051.8L1646.1 1094.6L1647.4 1043.5L1648.8 1094.6L1650.1 1022.4L1651.5 1070.8L1652.9 1094.6L1654.2 1109.2L1655.6 1070.8L1657.0 1028.9L1658.3 1094.6L1659.7 1109.2L1661.0 1028.9L1662.4 1043.5L1663.8 1109.2L1665.1 1060.8L1666.5 1005.1L1667.9 1109.2L1669.2 1043.5L1670.6 1082.0L1671.9 1060.8L1673.3 1043.5L1674.7 1010.5L1676.0 1070.8L1677.4 1094.6L1678.8 1070.8L1680.1 1070.8L1681.5 1070.8L1682.8 1028.9L1684.2 1070.8L1685.6 1051.8L1686.9 1028.9L1688.3 1070.8L1689.7 1051.8L1691.0 1036.0L1692.4 1070.8L1693.7 1060.8L1695.1 1070.8L1696.5 1070.8L1697.8 1043.5L1699.2 1043.5L1700.6 1022.4L1701.9 1043.5L1703.3 1051.8L1704.6 1094.6L1706.0 1051.8L1707.4 1051.8L1708.7 1043.5L1710.1 1109.2L1711.5 1070.8L1712.8 1051.8L1714.2 1043.5L1715.5 1051.8L1716.9 1043.5L1718.3 1043.5L1719.6 1036.0L1721.0 1036.0L1722.3 1070.8L1723.7 1109.2L1725.1 1043.5L1726.4 1043.5L1727.8 1060.8L1729.2 1043.5L1730.5 1070.8L1731.9 1060.8L1733.2 1070.8L1734.6 1070.8L1736.0 1094.6L1737.3 1094.6L1738.7 1070.8L1740.1 1109.2L1741.4 1070.8L1742.8 1043.5L1744.1 1070.8L1745.5 1043.5L1746.9 1043.5L1748.2 1051.8L1749.6 1082.0L1751.0 1010.5L1752.3 1043.5L1753.7 1043.5L1755.0 1051.8L1756.4 1036.0L1757.8 1082.0L1759.1 1043.5L1760.5 1043.5L1761.9 1043.5L1763.2 1070.8L1764.6 1070.8L1765.9 1060.8L1767.3 1051.8L1768.7 1094.6L1770.0 1070.8L1771.4 1051.8L1772.8 1070.8L1774.1 1060.8L1775.5 1094.6L1776.8 1043.5L1778.2 1016.3L1779.6 1051.8L1780.9 1051.8L1782.3 1043.5L1783.7 1036.0L1785.0 1036.0L1786.4 1022.4L1787.7 1060.8L1789.1 1043.5L1790.5 1043.5L1791.8 1043.5L1793.2 1060.8L1794.6 1070.8L1795.9 1070.8L1797.3 1043.5L1798.6 1043.5L1800.0 1082.0L1801.4 1051.8L1802.7 1043.5L1804.1 1070.8L1805.5 1051.8L1806.8 1070.8L1808.2 1043.5L1809.5 1022.4L1810.9 1051.8L1812.3 1060.8L1813.6 1109.2L1815.0 1060.8L1816.4 1094.6L1817.7 1022.4L1819.1 1051.8L1820.4 1051.8L1821.8 1060.8L1823.2 1082.0L1824.5 1094.6L1825.9 1051.8L1827.3 1109.2L1828.6 1028.9L1830.0 1043.5L1831.3 1036.0L1832.7 1082.0L1834.1 1051.8L1835.4 1060.8L1836.8 1060.8L1838.1 1043.5L1839.5 1060.8L1840.9 1109.2L1842.2 1109.2L1843.6 1070.8L1845.0 1028.9L1846.3 1109.2L1847.7 1094.6L1849.0 1070.8L1850.4 1043.5L1851.8 1070.8L1853.1 1043.5L1854.5 1060.8L1855.9 1060.8L1857.2 1043.5L1858.6 1028.9L1859.9 1043.5L1861.3 1043.5L1862.7 1022.4L1864.0 1051.8L1865.4 1094.6L1866.8 1070.8L1868.1 1043.5L1869.5 1070.8L1870.8 1070.8L1872.2 1022.4L1873.6 1070.8L1874.9 1094.6L1876.3 1070.8L1877.7 1051.8L1879.0 1060.8L1880.4 1060.8L1881.7 1060.8L1883.1 1060.8L1884.5 1010.5L1885.8 1022.4L1887.2 1070.8L1888.6 1082.0L1889.9 1070.8L1891.3 1043.5L1892.6 1070.8L1894.0 1060.8L1895.4 1070.8L1896.7 1060.8L1898.1 1070.8L1899.5 1043.5L1900.8 1043.5L1902.2 1043.5L1903.5 1060.8L1904.9 1070.8L1906.3 1022.4L1907.6 1070.8L1909.0 1070.8L1910.4 1082.0L1911.7 1051.8L1913.1 1028.9L1914.4 1060.8L1915.8 1070.8L1917.2 1094.6L1918.5 1022.4L1919.9 1043.5L1921.3 1070.8L1922.6 1016.3L1924.0 1051.8L1925.3 1036.0L1926.7 1043.5L1928.1 1051.8L1929.4 1043.5L1930.8 1028.9L1932.2 1043.5L1933.5 1060.8L1934.9 1070.8L1936.2 1043.5L1937.6 1060.8L1939.0 1060.8L1940.3 1051.8L1941.7 1094.6L1943.0 1043.5L1944.4 1036.0L1945.8 1109.2L1947.1 1082.0L1948.5 1109.2L1949.9 1043.5L1951.2 1070.8L1952.6 1043.5L1953.9 1051.8L1955.3 1070.8L1956.7 1082.0L1958.0 1070.8L1959.4 1094.6L1960.8 1043.5L1962.1 1028.9L1963.5 1060.8L1964.8 1022.4L1966.2 1043.5L1967.6 1126.5L1968.9 1043.5L1970.3 1094.6L1971.7 1043.5L1973.0 1043.5L1974.4 1070.8L1975.7 1060.8L1977.1 1070.8L1978.5 1082.0L1979.8 1043.5L1981.2 1036.0L1982.6 1070.8L1983.9 1082.0L1985.3 1082.0L1986.6 1082.0L1988.0 1070.8L1989.4 1070.8L1990.7 1109.2L1992.1 1005.1L1993.5 1028.9L1994.8 1016.3L1996.2 1051.8L1997.5 1022.4L1998.9 1043.5L2000.3 1051.8L2001.6 1082.0L2003.0 1043.5L2004.4 1051.8L2005.7 1070.8L2007.1 1043.5L2008.4 1094.6L2009.8 1070.8L2011.2 1051.8L2012.5 1022.4L2013.9 1060.8L2015.3 1028.9L2016.6 1094.6L2018.0 1028.9L2019.3 1060.8L2020.7 1094.6L2022.1 1028.9L2023.4 1070.8L2024.8 1082.0L2026.2 1070.8L2027.5 1043.5L2028.9 1043.5L2030.2 1070.8L2031.6 1036.0L2033.0 1109.2L2034.3 1028.9L2035.7 1082.0L2037.1 1060.8L2038.4 1082.0L2039.8 1070.8L2041.1 1028.9L2042.5 1051.8" stroke="#00f"/>
<path d="M226.5 1060.8L227.9 1060.8L229.2 1036.0L230.6 1028.9L231.9 1043.5L233.3 1060.8L234.7 1028.9L236.0 1043.5L237.4 1094.6L238.8 1051.8L240.1 1043.5L241.5 1060.8L242.8 1028.9L244.2 1094.6L245.6 1043.5L246.9 1082.0L248.3 1094.6L249.7 1094.6L251.0 1028.9L252.4 1043.5L253.7 1022.4L255.1 1036.0L256.5 1060.8L257.8 1028.9L259.2 1028.9L260.6 1094.6L261.9 1043.5L263.3 1051.8L264.6 1109.2L266.0 1043.5L267.4 1016.3L268.7 1036.0L270.1 1070.8L271.5 1109.2L272.8 1043.5L274.2 1070.8L275.5 1016.3L276.9 1082.0L278.3 1082.0L279.6 1010.5L281.0 1094.6L282.4 1060.8L283.7 1094.6L285.1 1022.4L286.4 1060.8L287.8 1043.5L289.2 1036.0L290.5 1060.8L291.9 1028.9L293.3 1022.4L294.6 1060.8L296.0 1051.8L297.3 1028.9L298.7 1051.8L300.1 1036.0L301.4 1043.5L302.8 1028.9L304.2 1000.0L305.5 1094.6L306.9 1010.5L308.2 1051.8L309.6 1070.8L311.0 1094.6L312.3 1070.8L313.7 1051.8L315.1 1060.8L316.4 1043.5L317.8 1082.0L319.1 1051.8L320.5 1051.8L321.9 1082.0L323.2 1060.8L324.6 1028.9L326.0 1094.6L327.3 1082.0L328.7 1043.5L330.0 1051.8L331.4 1109.2L332.8 1060.8L334.1 1028.9L335.5 1060.8L336.8 1070.8L338.2 1070.8L339.6 1043.5L340.9 1082.0L342.3 1070.8L343.7 1082.0L345.0 1028.9L346.4 1036.0L347.7 1043.5L349.1 1028.9L350.5 1070.8L351.8 1060.8L353.2 1060.8L354.6 1060.8L355.9 1028.9L357.3 1051.8L358.6 1043.5L360.0 1028.9L361.4 1051.8L362.7 1010.5L364.1 1051.8L365.5 1070.8L366.8 1060.8L368.2 1082.0L369.5 1043.5L370.9 1043.5L372.3 1060.8L373.6 1060.8L375.0 1082.0L376.4 1060.8L377.7 1043.5L379.1 1028.9L380.4 1082.0L381.8 1016.3L383.2 1060.8L384.5 1051.8L385.9 1060.8L387.3 1036.0L388.6 1051.8L390.0 1043.5L391.3 1094.6L392.7 1043.5L394.1 1051.8L395.4 1043.5L396.8 1016.3L398.2 1022.4L399.5 1082.0L400.9 1060.8L402.2 1060.8L403.6 1051.8L405.0 1028.9L406.3 1005.1L407.7 1028.9L409.1 1082.0L410.4 1016.3L411.8 1043.5L413.1 1060.8L414.5 1094.6L415.9 1126.5L417.2 1051.8L418.6 1070.8L420.0 1051.8L421.3 1036.0L422.7 1036.0L424.0 1060.8L425.4 1016.3L426.8 1016.3L428.1 1010.5L429.5 1043.5L430.9 1028.9L432.2 1060.8L433.6 1051.8L434.9 1094.6L436.3 1094.6L437.7 1051.8L439.0 1060.8L440.4 1022.4L441.7 1036.0L443.1 1060.8L444.5 1043.5L445.8 1051.8L447.2 1060.8L448.6 1060.8L449.9 1051.8L451.3 1016.3L452.6 1094.6L454.0 1028.9L455.4 1070.8L456.7 1094.6L458.1 1022.4L459.5 1060.8L460.8 1070.8L462.2 1082.0L463.5 1060.8L464.9 1043.5L466.3 1022.4L467.6 1028.9L469.0 1022.4L470.4 1036.0L471.7 1036.0L473.1 1036.0L474.4 1036.0L475.8 1082.0L477.2 1082.0L478.5 1109.2L479.9 1060.8L481.3 1070.8L482.6 1051.8L484.0 1022.4L485.3 1060.8L486.7 1005.1L488.1 1070.8L489.4 1051.8L490.8 1005.1L492.2 1082.0L493.5 1043.5L494.9 1028.9L496.2 1028.9L497.6 1022.4L499.0 1036.0L500.3 1051.8L501.7 1028.9L503.1 1060.8L504.4 1043.5L505.8 1036.0L507.1 1036.0L508.5 1060.8L509.9 1005.1L511.2 1060.8L512.6 1051.8L514.0 1005.1L515.3 1022.4L516.7 1022.4L518.0 1043.5L519.4 1022.4L520.8 1022.4L522.1 1051.8L523.5 1036.0L524.9 1016.3L526.2 1022.4L527.6 1028.9L528.9 1005.1L530.3 1022.4L531.7 1060.8L533.0 1043.5L534.4 1036.0L535.8 1005.1L537.1 1016.3L538.5 1005.1L539.8 1028.9L541.2 981.9L542.6 995.1L543.9 1010.5L545.3 974.0L546.7 1010.5L548.0 990.5L549.4 986.1L550.7 977.9L552.1 1000.0L553.5 995.1L554.8 981.9L556.2 1005.1L557.5 963.2L558.9 995.1L560.3 981.9L561.6 974.0L563.0 970.3L564.4 990.5L565.7 970.3L567.1 986.1L568.4 959.9L569.8 953.6L571.2 977.9L572.5 970.3L573.9 974.0L575.3 956.7L576.6 942.1L578.0 950.6L579.3 947.7L580.7 947.7L582.1 959.9L583.4 953.6L584.8 939.4L586.2 918.3L587.5 934.3L588.9 953.6L590.2 920.4L591.6 929.4L593.0 929.4L594.3 922.6L595.7 916.2L597.1 931.8L598.4 912.2L599.8 906.4L601.1 904.6L602.5 908.3L603.9 895.9L605.2 894.2L606.6 887.9L608.0 887.9L609.3 883.4L610.7 869.9L612.0 879.2L613.4 866.2L614.8 867.4L616.1 868.6L617.5 866.2L618.9 848.5L620.2 847.5L621.6 831.0L622.9 822.2L624.3 818.5L625.7 799.3L629.0 785.0L632.0 755.0L635.0 730.0L641.0 688.0L645.0 645.0L647.3 618.0L649.0 591.0L650.3 564.0L651.5 540.0L653.2 515.0L655.0 498.0L657.5 489.5L660.1 486.2L662.7 489.5L665.5 498.0L668.3 512.0L670.8 530.0L673.0 545.0L675.3 564.0L678.0 591.0L680.3 618.0L682.6 645.0L685.6 674.0L691.1 720.4L692.4 729.5L693.8 742.0L695.1 747.1L696.5 760.4L697.9 769.6L699.2 784.8L700.6 797.5L702.0 819.2L703.3 826.1L704.7 841.7L706.0 843.6L707.4 859.1L708.8 856.9L710.1 854.7L711.5 851.6L712.9 861.4L714.2 855.8L715.6 855.8L716.9 845.5L718.3 841.7L719.7 841.7L721.0 831.9L722.4 838.0L723.8 832.7L725.1 839.8L726.5 836.2L727.8 843.6L729.2 846.5L730.6 840.7L731.9 844.5L733.3 843.6L734.7 853.7L736.0 853.7L737.4 865.0L738.7 868.6L740.1 866.2L741.5 871.1L742.8 880.6L744.2 875.1L745.6 883.4L746.9 875.1L748.3 886.4L749.6 899.3L751.0 892.6L752.4 902.8L753.7 901.0L755.1 908.3L756.5 904.6L757.8 912.2L759.2 922.6L760.5 922.6L761.9 918.3L763.3 924.8L764.6 927.1L766.0 902.8L767.3 910.2L768.7 901.0L770.1 904.6L771.4 894.2L772.8 889.5L774.2 877.8L775.5 880.6L776.9 861.4L778.2 849.5L779.6 843.6L781.0 828.6L782.3 808.1L783.7 776.0L785.1 749.2L786.4 721.5L787.8 704.0L790.0 673.0L792.5 616.0L795.5 560.0L798.5 520.0L803.0 456.0L808.0 410.0L810.5 393.0L812.5 340.0L815.0 260.0L817.6 192.0L821.5 340.0L828.2 232.0L831.0 280.0L833.0 340.0L834.5 393.0L838.0 456.0L843.0 520.0L848.5 600.0L853.0 658.0L863.0 736.0L872.2 767.0L873.6 767.5L875.0 769.6L876.3 774.1L877.7 776.5L879.1 795.7L880.4 802.9L881.8 797.5L883.1 804.8L884.5 810.1L885.9 812.1L887.2 825.3L888.6 821.5L890.0 837.1L891.3 841.7L892.7 856.9L894.0 855.8L895.4 861.4L896.8 859.1L898.1 866.2L899.5 877.8L900.9 872.4L902.2 889.5L903.6 887.9L904.9 889.5L906.3 891.0L907.7 899.3L909.0 908.3L910.4 916.2L911.8 910.2L913.1 908.3L914.5 912.2L915.8 936.8L917.2 924.8L918.6 944.8L919.9 929.4L921.3 953.6L922.7 947.7L924.0 950.6L925.4 953.6L926.7 959.9L928.1 956.7L929.5 947.7L930.8 974.0L932.2 963.2L933.6 974.0L934.9 977.9L936.3 974.0L937.6 981.9L939.0 981.9L940.4 963.2L941.7 963.2L943.1 981.9L944.5 990.5L945.8 977.9L947.2 966.7L948.5 966.7L949.9 1000.0L951.3 1028.9L952.6 995.1L954.0 1010.5L955.4 986.1L956.7 1028.9L958.1 1005.1L959.4 981.9L960.8 1016.3L962.2 1022.4L963.5 1016.3L964.9 1005.1L966.3 1000.0L967.6 1028.9L969.0 1016.3L970.3 1000.0L971.7 1028.9L973.1 1051.8L974.4 1036.0L975.8 1028.9L977.1 1036.0L978.5 1036.0L979.9 1036.0L981.2 1043.5L982.6 1010.5L984.0 1036.0L985.3 1043.5L986.7 1060.8L988.0 1070.8L989.4 1043.5L990.8 1036.0L992.1 1070.8L993.5 1094.6L994.9 1036.0L996.2 1036.0L997.6 1051.8L998.9 1051.8L1000.3 1043.5L1001.7 1043.5L1003.0 1070.8L1004.4 1043.5L1005.8 1070.8L1007.1 1051.8L1008.5 1082.0L1009.8 1094.6L1011.2 1036.0L1012.6 1070.8L1013.9 1036.0L1015.3 1082.0L1016.7 1070.8L1018.0 1082.0L1019.4 1109.2L1020.7 1051.8L1022.1 1036.0L1023.5 1016.3L1024.8 1022.4L1026.2 1060.8L1027.6 1051.8L1028.9 1082.0L1030.3 1051.8L1031.6 1051.8L1033.0 1036.0L1034.4 1036.0L1035.7 1082.0L1037.1 1109.2L1038.5 1036.0L1039.8 1051.8L1041.2 1082.0L1042.5 1005.1L1043.9 1051.8L1045.3 1082.0L1046.6 1051.8L1048.0 1082.0L1049.4 1094.6L1050.7 1070.8L1052.1 1028.9L1053.4 1051.8L1054.8 1060.8L1056.2 1036.0L1057.5 1051.8L1058.9 1060.8L1060.3 1082.0L1061.6 1051.8L1063.0 1051.8L1064.3 1082.0L1065.7 1060.8L1067.1 1051.8L1068.4 1036.0L1069.8 1036.0L1071.2 1082.0L1072.5 1051.8L1073.9 1109.2L1075.2 1094.6L1076.6 1051.8L1078.0 1051.8L1079.3 1060.8L1080.7 1036.0L1082.0 1070.8L1083.4 1070.8L1084.8 1070.8L1086.1 1028.9L1087.5 1126.5L1088.9 1070.8L1090.2 1060.8L1091.6 1051.8L1092.9 1082.0L1094.3 1060.8L1095.7 1043.5L1097.0 1109.2L1098.4 1070.8L1099.8 1036.0L1101.1 1109.2L1102.5 1109.2L1103.8 1060.8L1105.2 1082.0L1106.6 1082.0L1107.9 1051.8L1109.3 1109.2L1110.7 1094.6L1112.0 1036.0L1113.4 1094.6L1114.7 1082.0L1116.1 1043.5L1117.5 1051.8L1118.8 1051.8L1120.2 1082.0L1121.6 1060.8L1122.9 1082.0L1124.3 1082.0L1125.6 1051.8L1127.0 1070.8L1128.4 1051.8L1129.7 1051.8L1131.1 1051.8L1132.5 1082.0L1133.8 1070.8L1135.2 1109.2L1136.5 1082.0L1137.9 1109.2L1139.3 1082.0L1140.6 1060.8L1142.0 1043.5L1143.4 1082.0L1144.7 1060.8L1146.1 1060.8L1147.4 1082.0L1148.8 1036.0L1150.2 1060.8L1151.5 1082.0L1152.9 1082.0L1154.3 1051.8L1155.6 1051.8L1157.0 1109.2L1158.3 1126.5L1159.7 1070.8L1161.1 1082.0L1162.4 1082.0L1163.8 1070.8L1165.2 1051.8L1166.5 1022.4L1167.9 1082.0L1169.2 1036.0L1170.6 1036.0L1172.0 1051.8L1173.3 1082.0L1174.7 1109.2L1176.1 1070.8L1177.4 1094.6L1178.8 1082.0L1180.1 1051.8L1181.5 1147.6L1182.9 1094.6L1184.2 1094.6L1185.6 1082.0L1187.0 1070.8L1188.3 1126.5L1189.7 1051.8L1191.0 1070.8L1192.4 1082.0L1193.8 1109.2L1195.1 1109.2L1196.5 1094.6L1197.8 1060.8L1199.2 1082.0L1200.6 1082.0L1201.9 1070.8L1203.3 1070.8L1204.7 1082.0L1206.0 1070.8L1207.4 1060.8L1208.7 1051.8L1210.1 1070.8L1211.5 1094.6L1212.8 1070.8L1214.2 1082.0L1215.6 1051.8L1216.9 1082.0L1218.3 1070.8L1219.6 1051.8L1221.0 1036.0L1222.4 1060.8L1223.7 1060.8L1225.1 1036.0L1226.5 1109.2L1227.8 1028.9L1229.2 1043.5L1230.5 1036.0L1231.9 1082.0L1233.3 1109.2L1234.6 1082.0L1236.0 1051.8L1237.4 1022.4L1238.7 1094.6L1240.1 1022.4L1241.4 1094.6L1242.8 1109.2L1244.2 1082.0L1245.5 1036.0L1246.9 1036.0L1248.3 1060.8L1249.6 1082.0L1251.0 1109.2L1252.3 1060.8L1253.7 1036.0L1255.1 1094.6L1256.4 1082.0L1257.8 1109.2L1259.2 1051.8L1260.5 1070.8L1261.9 1070.8L1263.2 1060.8L1264.6 1094.6L1266.0 1051.8L1267.3 1070.8L1268.7 1082.0L1270.1 1082.0L1271.4 1010.5L1272.8 1070.8L1274.1 1060.8L1275.5 1094.6L1276.9 1051.8L1278.2 1051.8L1279.6 1082.0L1281.0 1082.0L1282.3 1082.0L1283.7 1060.8L1285.0 1028.9L1286.4 1051.8L1287.8 1126.5L1289.1 1028.9L1290.5 1036.0L1291.9 1043.5L1293.2 1082.0L1294.6 1070.8L1295.9 1051.8L1297.3 1051.8L1298.7 1094.6L1300.0 1060.8L1301.4 1043.5L1302.7 1070.8L1304.1 1147.6L1305.5 1036.0L1306.8 1051.8L1308.2 1051.8L1309.6 1051.8L1310.9 1070.8L1312.3 1109.2L1313.6 1051.8L1315.0 1082.0L1316.4 1070.8L1317.7 1043.5L1319.1 1043.5L1320.5 1051.8L1321.8 1036.0L1323.2 1060.8L1324.5 1094.6L1325.9 1051.8L1327.3 1070.8L1328.6 1082.0L1330.0 1070.8L1331.4 1109.2L1332.7 1082.0L1334.1 1094.6L1335.4 1082.0L1336.8 1070.8L1338.2 1051.8L1339.5 1082.0L1340.9 1051.8L1342.3 1082.0L1343.6 1051.8L1345.0 1051.8L1346.3 1082.0L1347.7 1070.8L1349.1 1060.8L1350.4 1082.0L1351.8 1082.0L1353.2 1051.8L1354.5 1060.8L1355.9 1082.0L1357.2 1060.8L1358.6 1051.8L1360.0 1082.0L1361.3 1070.8L1362.7 1051.8L1364.1 1036.0L1365.4 1060.8L1366.8 1043.5L1368.1 1070.8L1369.5 1109.2L1370.9 1082.0L1372.2 1036.0L1373.6 1082.0L1375.0 1070.8L1376.3 1043.5L1377.7 1036.0L1379.0 1043.5L1380.4 1051.8L1381.8 1051.8L1383.1 1060.8L1384.5 1109.2L1385.9 1070.8L1387.2 1051.8L1388.6 1036.0L1389.9 1051.8L1391.3 1051.8L1392.7 1082.0L1394.0 1070.8L1395.4 1094.6L1396.8 1051.8L1398.1 1036.0L1399.5 1036.0L1400.8 1082.0L1402.2 1082.0L1403.6 1060.8L1404.9 1043.5L1406.3 1070.8L1407.6 1070.8L1409.0 1109.2L1410.4 1036.0L1411.7 1109.2L1413.1 1082.0L1414.5 1082.0L1415.8 1082.0L1417.2 1109.2L1418.5 1051.8L1419.9 1022.4L1421.3 1070.8L1422.6 1082.0L1424.0 1082.0L1425.4 1051.8L1426.7 1060.8L1428.1 1028.9L1429.4 1051.8L1430.8 1094.6L1432.2 1109.2L1433.5 1060.8L1434.9 1060.8L1436.3 1109.2L1437.6 1109.2L1439.0 1051.8L1440.3 1082.0L1441.7 1051.8L1443.1 1082.0L1444.4 1051.8L1445.8 1060.8L1447.2 1051.8L1448.5 1051.8L1449.9 1126.5L1451.2 1051.8L1452.6 1082.0L1454.0 1051.8L1455.3 1082.0L1456.7 1043.5L1458.1 1060.8L1459.4 1043.5L1460.8 1043.5L1462.1 1051.8L1463.5 1109.2L1464.9 1051.8L1466.2 1094.6L1467.6 1043.5L1469.0 1070.8L1470.3 1082.0L1471.7 1094.6L1473.0 1043.5L1474.4 1060.8L1475.8 1070.8L1477.1 1070.8L1478.5 1082.0L1479.9 1082.0L1481.2 1070.8L1482.6 1051.8L1483.9 1051.8L1485.3 1126.5L1486.7 1051.8L1488.0 1109.2L1489.4 1082.0L1490.8 1070.8L1492.1 1109.2L1493.5 1070.8L1494.8 1082.0L1496.2 1060.8L1497.6 1022.4L1498.9 1051.8L1500.3 1051.8L1501.7 1060.8L1503.0 1043.5L1504.4 1082.0L1505.7 1109.2L1507.1 1051.8L1508.5 1070.8L1509.8 1060.8L1511.2 1060.8L1512.5 1109.2L1513.9 1028.9L1515.3 1109.2L1516.6 1043.5L1518.0 1060.8L1519.4 1051.8L1520.7 1082.0L1522.1 1043.5L1523.4 1094.6L1524.8 1082.0L1526.2 1094.6L1527.5 1082.0L1528.9 1051.8L1530.3 1082.0L1531.6 1109.2L1533.0 1043.5L1534.3 1082.0L1535.7 1051.8L1537.1 1051.8L1538.4 1036.0L1539.8 1043.5L1541.2 1070.8L1542.5 1094.6L1543.9 1094.6L1545.2 1082.0L1546.6 1147.6L1548.0 1109.2L1549.3 1082.0L1550.7 1109.2L1552.1 1070.8L1553.4 1051.8L1554.8 1082.0L1556.1 1060.8L1557.5 1043.5L1558.9 1060.8L1560.2 1070.8L1561.6 1060.8L1563.0 1051.8L1564.3 1094.6L1565.7 1051.8L1567.0 1082.0L1568.4 1051.8L1569.8 1060.8L1571.1 1082.0L1572.5 1109.2L1573.9 1082.0L1575.2 1051.8L1576.6 1036.0L1577.9 1051.8L1579.3 1051.8L1580.7 1082.0L1582.0 1094.6L1583.4 1070.8L1584.8 1051.8L1586.1 1051.8L1587.5 1051.8L1588.8 1082.0L1590.2 1070.8L1591.6 1060.8L1592.9 1051.8L1594.3 1094.6L1595.7 1051.8L1597.0 1082.0L1598.4 1082.0L1599.7 1109.2L1601.1 1094.6L1602.5 1036.0L1603.8 1082.0L1605.2 1060.8L1606.6 1082.0L1607.9 1082.0L1609.3 1051.8L1610.6 1043.5L1612.0 1060.8L1613.4 1070.8L1614.7 1082.0L1616.1 1051.8L1617.4 1082.0L1618.8 1109.2L1620.2 1082.0L1621.5 1051.8L1622.9 1082.0L1624.3 1060.8L1625.6 1070.8L1627.0 1082.0L1628.3 1082.0L1629.7 1051.8L1631.1 1082.0L1632.4 1082.0L1633.8 1070.8L1635.2 1082.0L1636.5 1082.0L1637.9 1070.8L1639.2 1051.8L1640.6 1082.0L1642.0 1094.6L1643.3 1051.8L1644.7 1082.0L1646.1 1036.0L1647.4 1036.0L1648.8 1022.4L1650.1 1094.6L1651.5 1094.6L1652.9 1060.8L1654.2 1051.8L1655.6 1005.1L1657.0 1070.8L1658.3 1036.0L1659.7 1060.8L1661.0 1022.4L1662.4 1051.8L1663.8 1070.8L1665.1 1043.5L1666.5 1036.0L1667.9 1043.5L1669.2 1174.9L1670.6 1051.8L1671.9 1082.0L1673.3 1070.8L1674.7 1070.8L1676.0 1094.6L1677.4 1070.8L1678.8 1109.2L1680.1 1060.8L1681.5 1060.8L1682.8 1082.0L1684.2 1051.8L1685.6 1094.6L1686.9 1094.6L1688.3 1082.0L1689.7 1060.8L1691.0 1094.6L1692.4 1043.5L1693.7 1094.6L1695.1 1082.0L1696.5 1094.6L1697.8 1082.0L1699.2 1094.6L1700.6 1094.6L1701.9 1051.8L1703.3 1028.9L1704.6 1070.8L1706.0 1051.8L1707.4 1094.6L1708.7 1036.0L1710.1 1094.6L1711.5 1060.8L1712.8 1051.8L1714.2 1051.8L1715.5 1070.8L1716.9 1051.8L1718.3 1070.8L1719.6 1094.6L1721.0 1060.8L1722.3 1109.2L1723.7 1051.8L1725.1 1094.6L1726.4 1043.5L1727.8 1082.0L1729.2 1051.8L1730.5 1060.8L1731.9 1028.9L1733.2 1060.8L1734.6 1109.2L1736.0 1109.2L1737.3 1051.8L1738.7 1082.0L1740.1 1043.5L1741.4 1082.0L1742.8 1051.8L1744.1 1094.6L1745.5 1051.8L1746.9 1051.8L1748.2 1051.8L1749.6 1060.8L1751.0 1082.0L1752.3 1094.6L1753.7 1051.8L1755.0 1043.5L1756.4 1109.2L1757.8 1070.8L1759.1 1060.8L1760.5 1082.0L1761.9 1082.0L1763.2 1070.8L1764.6 1082.0L1765.9 1082.0L1767.3 1060.8L1768.7 1043.5L1770.0 1043.5L1771.4 1051.8L1772.8 1082.0L1774.1 1109.2L1775.5 1094.6L1776.8 1036.0L1778.2 1082.0L1779.6 1060.8L1780.9 1051.8L1782.3 1082.0L1783.7 1082.0L1785.0 1051.8L1786.4 1051.8L1787.7 1082.0L1789.1 1051.8L1790.5 1051.8L1791.8 1082.0L1793.2 1094.6L1794.6 1060.8L1795.9 1082.0L1797.3 1109.2L1798.6 1082.0L1800.0 1109.2L1801.4 1109.2L1802.7 1109.2L1804.1 1051.8L1805.5 1094.6L1806.8 1109.2L1808.2 1070.8L1809.5 1070.8L1810.9 1022.4L1812.3 1043.5L1813.6 1060.8L1815.0 1043.5L1816.4 1082.0L1817.7 1070.8L1819.1 1051.8L1820.4 1082.0L1821.8 1070.8L1823.2 1060.8L1824.5 1109.2L1825.9 1036.0L1827.3 1109.2L1828.6 1070.8L1830.0 1082.0L1831.3 1051.8L1832.7 1070.8L1834.1 1051.8L1835.4 1070.8L1836.8 1082.0L1838.1 1060.8L1839.5 1082.0L1840.9 1051.8L1842.2 1060.8L1843.6 1109.2L1845.0 1126.5L1846.3 1082.0L1847.7 1109.2L1849.0 1060.8L1850.4 1070.8L1851.8 1082.0L1853.1 1070.8L1854.5 1070.8L1855.9 1060.8L1857.2 1051.8L1858.6 1082.0L1859.9 1082.0L1861.3 1051.8L1862.7 1051.8L1864.0 1094.6L1865.4 1109.2L1866.8 1109.2L1868.1 1060.8L1869.5 1109.2L1870.8 1070.8L1872.2 1043.5L1873.6 1109.2L1874.9 1060.8L1876.3 1060.8L1877.7 1051.8L1879.0 1051.8L1880.4 1051.8L1881.7 1051.8L1883.1 1036.0L1884.5 1109.2L1885.8 1060.8L1887.2 1036.0L1888.6 1051.8L1889.9 1094.6L1891.3 1036.0L1892.6 1060.8L1894.0 1082.0L1895.4 1082.0L1896.7 1094.6L1898.1 1022.4L1899.5 1082.0L1900.8 1109.2L1902.2 1109.2L1903.5 1094.6L1904.9 1036.0L1906.3 1082.0L1907.6 1051.8L1909.0 1060.8L1910.4 1082.0L1911.7 1094.6L1913.1 1082.0L1914.4 1070.8L1915.8 1036.0L1917.2 1082.0L1918.5 1082.0L1919.9 1070.8L1921.3 1060.8L1922.6 1036.0L1924.0 1043.5L1925.3 1051.8L1926.7 1036.0L1928.1 1051.8L1929.4 1051.8L1930.8 1060.8L1932.2 1082.0L1933.5 1082.0L1934.9 1028.9L1936.2 1082.0L1937.6 1070.8L1939.0 1126.5L1940.3 1094.6L1941.7 1070.8L1943.0 1070.8L1944.4 1051.8L1945.8 1028.9L1947.1 1060.8L1948.5 1070.8L1949.9 1060.8L1951.2 1082.0L1952.6 1109.2L1953.9 1070.8L1955.3 1082.0L1956.7 1060.8L1958.0 1070.8L1959.4 1051.8L1960.8 1051.8L1962.1 1036.0L1963.5 1036.0L1964.8 1082.0L1966.2 1060.8L1967.6 1060.8L1968.9 1060.8L1970.3 1060.8L1971.7 1051.8L1973.0 1070.8L1974.4 1060.8L1975.7 1109.2L1977.1 1051.8L1978.5 1043.5L1979.8 1082.0L1981.2 1082.0L1982.6 1082.0L1983.9 1109.2L1985.3 1060.8L1986.6 1060.8L1988.0 1051.8L1989.4 1051.8L1990.7 1082.0L1992.1 1022.4L1993.5 1051.8L1994.8 1070.8L1996.2 1051.8L1997.5 1051.8L1998.9 1036.0L2000.3 1094.6L2001.6 1060.8L2003.0 1109.2L2004.4 1082.0L2005.7 1070.8L2007.1 1082.0L2008.4 1051.8L2009.8 1070.8L2011.2 1094.6L2012.5 1070.8L2013.9 1082.0L2015.3 1082.0L2016.6 1082.0L2018.0 1060.8L2019.3 1051.8L2020.7 1036.0L2022.1 1082.0L2023.4 1094.6L2024.8 1051.8L2026.2 1036.0L2027.5 1060.8L2028.9 1051.8L2030.2 1082.0L2031.6 1082.0L2033.0 1043.5L2034.3 1022.4L2035.7 1070.8L2037.1 1094.6L2038.4 1060.8L2039.8 1082.0L2041.1 1060.8L2042.5 1109.2" stroke="#f00"/>
<path d="M226.5 1022.4L227.9 1109.2L229.2 1094.6L230.6 1109.2L231.9 1094.6L233.3 1060.8L234.7 1094.6L236.0 1051.8L237.4 990.5L238.8 1126.5L240.1 981.9L241.5 1060.8L242.8 1126.5L244.2 963.2L245.6 1028.9L246.9 1094.6L248.3 1051.8L249.7 1094.6L251.0 1147.6L252.4 1109.2L253.7 995.1L255.1 1126.5L256.5 1051.8L257.8 1043.5L259.2 1028.9L260.6 1028.9L261.9 1028.9L263.3 1094.6L264.6 1022.4L266.0 1109.2L267.4 1060.8L268.7 1082.0L270.1 1051.8L271.5 1070.8L272.8 1109.2L274.2 1028.9L275.5 1060.8L276.9 1028.9L278.3 1200.0L279.6 1022.4L281.0 1109.2L282.4 1000.0L283.7 1016.3L285.1 1174.9L286.4 1036.0L287.8 1036.0L289.2 1036.0L290.5 1005.1L291.9 1036.0L293.3 1022.4L294.6 1051.8L296.0 1043.5L297.3 1022.4L298.7 1010.5L300.1 1094.6L301.4 1043.5L302.8 1043.5L304.2 1126.5L305.5 1082.0L306.9 1060.8L308.2 1094.6L309.6 1147.6L311.0 1036.0L312.3 1036.0L313.7 1043.5L315.1 1016.3L316.4 1005.1L317.8 1051.8L319.1 1126.5L320.5 1051.8L321.9 1036.0L323.2 1082.0L324.6 1070.8L326.0 1070.8L327.3 1070.8L328.7 1016.3L330.0 1016.3L331.4 1147.6L332.8 1043.5L334.1 1043.5L335.5 1010.5L336.8 995.1L338.2 1016.3L339.6 1126.5L340.9 1060.8L342.3 1147.6L343.7 1126.5L345.0 1070.8L346.4 1022.4L347.7 1051.8L349.1 1082.0L350.5 1082.0L351.8 1036.0L353.2 1070.8L354.6 1043.5L355.9 1109.2L357.3 1005.1L358.6 1005.1L360.0 1051.8L361.4 1043.5L362.7 1094.6L364.1 1051.8L365.5 1070.8L366.8 1016.3L368.2 1036.0L369.5 1022.4L370.9 1036.0L372.3 1109.2L373.6 1043.5L375.0 1126.5L376.4 1016.3L377.7 1109.2L379.1 1082.0L380.4 1022.4L381.8 1147.6L383.2 1147.6L384.5 1005.1L385.9 1094.6L387.3 1060.8L388.6 1051.8L390.0 1043.5L391.3 1051.8L392.7 1109.2L394.1 1000.0L395.4 1094.6L396.8 1043.5L398.2 1036.0L399.5 977.9L400.9 1109.2L402.2 1126.5L403.6 1051.8L405.0 990.5L406.3 1126.5L407.7 1051.8L409.1 1043.5L410.4 1036.0L411.8 1028.9L413.1 1060.8L414.5 1126.5L415.9 1070.8L417.2 1043.5L418.6 1051.8L420.0 981.9L421.3 1028.9L422.7 1060.8L424.0 981.9L425.4 1070.8L426.8 1094.6L428.1 990.5L429.5 1036.0L430.9 1126.5L432.2 1028.9L433.6 1082.0L434.9 1016.3L436.3 995.1L437.7 1010.5L439.0 956.7L440.4 1028.9L441.7 1000.0L443.1 1010.5L444.5 1094.6L445.8 981.9L447.2 970.3L448.6 1051.8L449.9 1005.1L451.3 1036.0L452.6 1036.0L454.0 995.1L455.4 986.1L456.7 1060.8L458.1 977.9L459.5 974.0L460.8 950.6L462.2 1022.4L463.5 1016.3L464.9 1051.8L466.3 970.3L467.6 990.5L469.0 1028.9L470.4 1022.4L471.7 990.5L473.1 986.1L474.4 963.2L475.8 966.7L477.2 981.9L478.5 1000.0L479.9 981.9L481.3 974.0L482.6 1010.5L484.0 1005.1L485.3 966.7L486.7 986.1L488.1 990.5L489.4 986.1L490.8 977.9L492.2 986.1L493.5 981.9L494.9 956.7L496.2 970.3L497.6 963.2L499.0 963.2L500.3 944.8L501.7 977.9L503.1 1000.0L504.4 995.1L505.8 1016.3L507.1 953.6L508.5 995.1L509.9 970.3L511.2 963.2L512.6 974.0L514.0 970.3L515.3 924.8L516.7 970.3L518.0 959.9L519.4 956.7L520.8 977.9L522.1 944.8L523.5 950.6L524.9 986.1L526.2 950.6L527.6 959.9L528.9 944.8L530.3 963.2L531.7 966.7L533.0 939.4L534.4 966.7L535.8 970.3L537.1 950.6L538.5 934.3L539.8 966.7L541.2 966.7L542.6 970.3L543.9 944.8L545.3 956.7L546.7 931.8L548.0 942.1L549.4 953.6L550.7 966.7L552.1 931.8L553.5 942.1L554.8 956.7L556.2 939.4L557.5 944.8L558.9 947.7L560.3 910.2L561.6 934.3L563.0 939.4L564.4 918.3L565.7 918.3L567.1 908.3L568.4 918.3L569.8 920.4L571.2 910.2L572.5 899.3L573.9 914.2L575.3 908.3L576.6 884.9L578.0 895.9L579.3 875.1L580.7 891.0L582.1 876.4L583.4 873.7L584.8 860.3L586.2 867.4L587.5 860.3L588.9 863.8L590.2 859.1L591.6 855.8L593.0 845.5L594.3 850.5L595.7 849.5L597.1 847.5L598.4 847.5L599.8 838.0L601.1 838.0L602.5 844.5L603.9 848.5L605.2 847.5L606.6 853.7L608.0 855.8L609.3 851.6L610.7 851.6L612.0 860.3L613.4 861.4L614.8 852.6L616.1 861.4L617.5 876.4L618.9 875.1L620.2 880.6L621.6 880.6L622.9 884.9L624.3 889.5L625.7 904.6L627.0 891.0L628.4 918.3L629.8 939.4L631.1 902.8L632.5 891.0L633.8 904.6L635.2 939.4L636.6 936.8L637.9 981.9L639.3 944.8L640.7 942.1L642.0 977.9L643.4 974.0L644.7 974.0L646.1 981.9L647.5 947.7L648.8 1000.0L650.2 1016.3L651.6 986.1L652.9 966.7L654.3 1005.1L655.6 981.9L657.0 990.5L658.4 990.5L659.7 986.1L661.1 981.9L662.4 970.3L663.8 1016.3L665.2 1043.5L666.5 1010.5L667.9 1010.5L669.3 981.9L670.6 995.1L672.0 1010.5L673.3 977.9L674.7 970.3L676.1 970.3L677.4 1010.5L678.8 1022.4L680.2 1010.5L681.5 1010.5L682.9 990.5L684.2 990.5L685.6 1022.4L687.0 981.9L688.3 986.1L689.7 995.1L691.1 970.3L692.4 1028.9L693.8 995.1L695.1 995.1L696.5 981.9L697.9 1010.5L699.2 1028.9L700.6 1043.5L702.0 1060.8L703.3 1005.1L704.7 1005.1L706.0 977.9L707.4 977.9L708.8 1051.8L710.1 1005.1L711.5 995.1L712.9 1070.8L714.2 959.9L715.6 974.0L716.9 974.0L718.3 947.7L719.7 977.9L721.0 990.5L722.4 1028.9L723.8 1005.1L725.1 974.0L726.5 1016.3L727.8 963.2L729.2 974.0L730.6 986.1L731.9 977.9L733.3 981.9L734.7 981.9L736.0 995.1L737.4 1016.3L738.7 1005.1L740.1 1051.8L741.5 981.9L742.8 1016.3L744.2 1022.4L745.6 977.9L746.9 995.1L748.3 995.1L749.6 995.1L751.0 990.5L752.4 1016.3L753.7 959.9L755.1 1016.3L756.5 986.1L757.8 970.3L759.2 953.6L760.5 939.4L761.9 947.7L763.3 927.1L764.6 922.6L766.0 884.9L767.3 880.6L768.7 869.9L770.1 858.0L771.4 851.6L772.8 845.5L774.2 832.7L775.5 823.8L776.9 808.1L778.2 799.9L779.6 786.4L781.0 779.8L782.3 758.1L783.7 741.1L785.1 724.7L788.4 673.3L791.3 616.7L794.7 560.0L797.0 520.0L801.8 456.6L807.0 410.0L809.0 393.0L810.0 361.0L811.0 325.0L812.0 270.0L813.0 234.0L814.0 201.0L816.6 184.0L821.8 333.0L827.0 224.0L830.0 274.0L831.5 319.0L833.0 360.0L833.5 393.0L836.5 456.6L841.5 520.0L848.0 600.0L852.5 658.0L857.5 705.0L863.4 736.0L870.0 758.0L872.2 762.9L873.6 768.3L875.0 771.4L876.3 761.2L877.7 769.2L879.1 783.3L880.4 792.9L881.8 789.6L883.1 794.6L884.5 813.5L885.9 811.4L887.2 809.4L888.6 827.7L890.0 828.6L891.3 828.6L892.7 841.7L894.0 835.3L895.4 871.1L896.8 852.6L898.1 860.3L899.5 865.0L900.9 863.8L902.2 879.2L903.6 873.7L904.9 882.0L906.3 880.6L907.7 891.0L909.0 906.4L910.4 902.8L911.8 902.8L913.1 906.4L914.5 908.3L915.8 929.4L917.2 908.3L918.6 920.4L919.9 920.4L921.3 959.9L922.7 918.3L924.0 963.2L925.4 959.9L926.7 953.6L928.1 936.8L929.5 947.7L930.8 934.3L932.2 974.0L933.6 970.3L934.9 1005.1L936.3 929.4L937.6 986.1L939.0 977.9L940.4 974.0L941.7 990.5L943.1 990.5L944.5 1016.3L945.8 990.5L947.2 1005.1L948.5 974.0L949.9 1000.0L951.3 990.5L952.6 1005.1L954.0 1010.5L955.4 1000.0L956.7 981.9L958.1 1000.0L959.4 1000.0L960.8 1036.0L962.2 1051.8L963.5 1022.4L964.9 1028.9L966.3 1043.5L967.6 1005.1L969.0 1051.8L970.3 1016.3L971.7 1043.5L973.1 977.9L974.4 1070.8L975.8 1043.5L977.1 1036.0L978.5 1028.9L979.9 1070.8L981.2 1036.0L982.6 1005.1L984.0 1036.0L985.3 990.5L986.7 1126.5L988.0 1022.4L989.4 1051.8L990.8 1043.5L992.1 990.5L993.5 1070.8L994.9 1082.0L996.2 1036.0L997.6 1051.8L998.9 1022.4L1000.3 1070.8L1001.7 1022.4L1003.0 1060.8L1004.4 1082.0L1005.8 1060.8L1007.1 1082.0L1008.5 1022.4L1009.8 1094.6L1011.2 1094.6L1012.6 1109.2L1013.9 1109.2L1015.3 1070.8L1016.7 1043.5L1018.0 1060.8L1019.4 1082.0L1020.7 1070.8L1022.1 1094.6L1023.5 1028.9L1024.8 1016.3L1026.2 1094.6L1027.6 1060.8L1028.9 1082.0L1030.3 1028.9L1031.6 1094.6L1033.0 1082.0L1034.4 1094.6L1035.7 1126.5L1037.1 1082.0L1038.5 1043.5L1039.8 1043.5L1041.2 1109.2L1042.5 1094.6L1043.9 1070.8L1045.3 1043.5L1046.6 1060.8L1048.0 1060.8L1049.4 1126.5L1050.7 1028.9L1052.1 1070.8L1053.4 1082.0L1054.8 1109.2L1056.2 1094.6L1057.5 1036.0L1058.9 1082.0L1060.3 1005.1L1061.6 1051.8L1063.0 1036.0L1064.3 1000.0L1065.7 1094.6L1067.1 1070.8L1068.4 1043.5L1069.8 1094.6L1071.2 1060.8L1072.5 1060.8L1073.9 1070.8L1075.2 1082.0L1076.6 1043.5L1078.0 1036.0L1079.3 1028.9L1080.7 1070.8L1082.0 1109.2L1083.4 1070.8L1084.8 1060.8L1086.1 1126.5L1087.5 1010.5L1088.9 1060.8L1090.2 1043.5L1091.6 1060.8L1092.9 1060.8L1094.3 1043.5L1095.7 1060.8L1097.0 1028.9L1098.4 1126.5L1099.8 1060.8L1101.1 1060.8L1102.5 1082.0L1103.8 1060.8L1105.2 1051.8L1106.6 1043.5L1107.9 1022.4L1109.3 1082.0L1110.7 1109.2L1112.0 1082.0L1113.4 1109.2L1114.7 1036.0L1116.1 1022.4L1117.5 1082.0L1118.8 1082.0L1120.2 1147.6L1121.6 1060.8L1122.9 1082.0L1124.3 1070.8L1125.6 995.1L1127.0 1174.9L1128.4 1036.0L1129.7 1109.2L1131.1 1082.0L1132.5 1094.6L1133.8 1174.9L1135.2 1060.8L1136.5 1022.4L1137.9 1036.0L1139.3 1005.1L1140.6 1109.2L1142.0 1147.6L1143.4 1060.8L1144.7 1094.6L1146.1 1043.5L1147.4 1147.6L1148.8 1126.5L1150.2 1010.5L1151.5 1060.8L1152.9 1016.3L1154.3 1070.8L1155.6 1094.6L1157.0 1051.8L1158.3 1060.8L1159.7 1036.0L1161.1 1094.6L1162.4 1082.0L1163.8 1036.0L1165.2 1094.6L1166.5 1043.5L1167.9 1070.8L1169.2 1051.8L1170.6 1016.3L1172.0 1147.6L1173.3 1094.6L1174.7 1060.8L1176.1 1036.0L1177.4 1082.0L1178.8 1147.6L1180.1 1043.5L1181.5 1094.6L1182.9 1060.8L1184.2 1070.8L1185.6 1022.4L1187.0 1070.8L1188.3 1060.8L1189.7 1109.2L1191.0 1036.0L1192.4 1070.8L1193.8 1060.8L1195.1 1051.8L1196.5 1082.0L1197.8 1094.6L1199.2 1060.8L1200.6 1051.8L1201.9 1082.0L1203.3 1060.8L1204.7 1109.2L1206.0 1051.8L1207.4 1060.8L1208.7 1036.0L1210.1 1094.6L1211.5 1051.8L1212.8 1022.4L1214.2 1036.0L1215.6 1082.0L1216.9 1094.6L1218.3 1082.0L1219.6 1051.8L1221.0 1051.8L1222.4 1126.5L1223.7 1094.6L1225.1 1060.8L1226.5 1094.6L1227.8 1147.6L1229.2 1082.0L1230.5 1070.8L1231.9 1082.0L1233.3 1070.8L1234.6 1051.8L1236.0 1060.8L1237.4 1036.0L1238.7 1051.8L1240.1 1094.6L1241.4 1070.8L1242.8 1094.6L1244.2 1043.5L1245.5 1016.3L1246.9 1094.6L1248.3 1126.5L1249.6 1060.8L1251.0 1082.0L1252.3 1109.2L1253.7 1147.6L1255.1 1051.8L1256.4 1094.6L1257.8 1070.8L1259.2 1082.0L1260.5 1028.9L1261.9 1070.8L1263.2 1043.5L1264.6 1082.0L1266.0 1000.0L1267.3 1082.0L1268.7 1022.4L1270.1 1082.0L1271.4 1082.0L1272.8 1043.5L1274.1 1051.8L1275.5 1060.8L1276.9 1043.5L1278.2 1051.8L1279.6 1126.5L1281.0 1043.5L1282.3 1043.5L1283.7 1126.5L1285.0 1060.8L1286.4 1109.2L1287.8 1174.9L1289.1 1109.2L1290.5 1174.9L1291.9 1051.8L1293.2 1147.6L1294.6 1070.8L1295.9 1028.9L1297.3 1126.5L1298.7 1070.8L1300.0 1043.5L1301.4 1126.5L1302.7 1060.8L1304.1 1028.9L1305.5 1109.2L1306.8 1094.6L1308.2 1094.6L1309.6 1109.2L1310.9 1000.0L1312.3 1109.2L1313.6 1126.5L1315.0 1109.2L1316.4 1109.2L1317.7 1126.5L1319.1 1051.8L1320.5 1094.6L1321.8 1051.8L1323.2 1070.8L1324.5 1051.8L1325.9 1022.4L1327.3 1016.3L1328.6 1109.2L1330.0 1070.8L1331.4 1051.8L1332.7 1094.6L1334.1 1036.0L1335.4 1082.0L1336.8 1082.0L1338.2 1043.5L1339.5 1109.2L1340.9 1036.0L1342.3 1082.0L1343.6 1070.8L1345.0 1043.5L1346.3 1174.9L1347.7 1126.5L1349.1 1043.5L1350.4 1051.8L1351.8 1070.8L1353.2 1051.8L1354.5 1028.9L1355.9 1028.9L1357.2 1070.8L1358.6 1094.6L1360.0 1147.6L1361.3 1043.5L1362.7 1109.2L1364.1 1109.2L1365.4 1060.8L1366.8 1126.5L1368.1 1060.8L1369.5 1174.9L1370.9 1036.0L1372.2 1051.8L1373.6 1082.0L1375.0 1022.4L1376.3 1094.6L1377.7 1070.8L1379.0 1051.8L1380.4 1147.6L1381.8 1070.8L1383.1 1082.0L1384.5 1036.0L1385.9 1051.8L1387.2 1070.8L1388.6 1126.5L1389.9 1126.5L1391.3 1043.5L1392.7 1043.5L1394.0 1051.8L1395.4 1109.2L1396.8 1082.0L1398.1 1070.8L1399.5 1051.8L1400.8 1060.8L1402.2 1147.6L1403.6 1070.8L1404.9 1051.8L1406.3 1109.2L1407.6 1147.6L1409.0 1051.8L1410.4 1036.0L1411.7 1060.8L1413.1 1043.5L1414.5 1051.8L1415.8 1051.8L1417.2 1028.9L1418.5 1082.0L1419.9 1000.0L1421.3 1070.8L1422.6 1109.2L1424.0 1126.5L1425.4 1043.5L1426.7 1060.8L1428.1 1051.8L1429.4 1036.0L1430.8 1060.8L1432.2 1010.5L1433.5 1051.8L1434.9 1043.5L1436.3 1036.0L1437.6 1043.5L1439.0 1126.5L1440.3 1022.4L1441.7 1094.6L1443.1 1036.0L1444.4 1051.8L1445.8 1082.0L1447.2 1070.8L1448.5 1094.6L1449.9 1082.0L1451.2 1010.5L1452.6 1060.8L1454.0 1043.5L1455.3 1126.5L1456.7 1051.8L1458.1 1082.0L1459.4 1036.0L1460.8 1051.8L1462.1 1070.8L1463.5 1070.8L1464.9 1109.2L1466.2 1094.6L1467.6 1126.5L1469.0 1082.0L1470.3 1070.8L1471.7 1022.4L1473.0 1051.8L1474.4 1036.0L1475.8 1070.8L1477.1 1094.6L1478.5 1060.8L1479.9 1094.6L1481.2 1051.8L1482.6 1082.0L1483.9 1051.8L1485.3 1070.8L1486.7 1094.6L1488.0 1036.0L1489.4 1043.5L1490.8 1070.8L1492.1 1109.2L1493.5 1094.6L1494.8 1060.8L1496.2 1043.5L1497.6 1043.5L1498.9 1147.6L1500.3 1060.8L1501.7 1036.0L1503.0 1109.2L1504.4 1082.0L1505.7 1022.4L1507.1 1094.6L1508.5 1094.6L1509.8 1051.8L1511.2 1043.5L1512.5 1043.5L1513.9 1028.9L1515.3 1060.8L1516.6 1070.8L1518.0 1051.8L1519.4 1070.8L1520.7 1109.2L1522.1 1060.8L1523.4 1109.2L1524.8 1070.8L1526.2 1051.8L1527.5 1126.5L1528.9 1036.0L1530.3 1082.0L1531.6 1051.8L1533.0 1043.5L1534.3 1070.8L1535.7 1082.0L1537.1 1036.0L1538.4 1082.0L1539.8 1022.4L1541.2 1043.5L1542.5 1094.6L1543.9 1126.5L1545.2 1028.9L1546.6 1070.8L1548.0 1010.5L1549.3 1070.8L1550.7 1126.5L1552.1 1060.8L1553.4 1070.8L1554.8 1051.8L1556.1 1082.0L1557.5 1094.6L1558.9 1174.9L1560.2 1070.8L1561.6 1082.0L1563.0 1070.8L1564.3 1051.8L1565.7 1043.5L1567.0 1082.0L1568.4 1028.9L1569.8 1016.3L1571.1 1060.8L1572.5 1094.6L1573.9 1070.8L1575.2 1060.8L1576.6 1051.8L1577.9 1060.8L1579.3 1082.0L1580.7 1060.8L1582.0 1082.0L1583.4 1060.8L1584.8 1070.8L1586.1 1147.6L1587.5 1036.0L1588.8 1051.8L1590.2 1147.6L1591.6 1051.8L1592.9 1126.5L1594.3 1005.1L1595.7 1005.1L1597.0 1147.6L1598.4 1028.9L1599.7 1060.8L1601.1 1147.6L1602.5 1109.2L1603.8 1109.2L1605.2 1094.6L1606.6 1070.8L1607.9 1016.3L1609.3 1060.8L1610.6 1016.3L1612.0 1082.0L1613.4 1082.0L1614.7 1082.0L1616.1 1094.6L1617.4 1082.0L1618.8 1060.8L1620.2 1200.0L1621.5 1147.6L1622.9 1070.8L1624.3 1126.5L1625.6 1070.8L1627.0 1051.8L1628.3 1060.8L1629.7 1060.8L1631.1 1028.9L1632.4 1070.8L1633.8 1060.8L1635.2 1036.0L1636.5 1060.8L1637.9 1028.9L1639.2 1082.0L1640.6 1094.6L1642.0 1070.8L1643.3 1043.5L1644.7 1060.8L1646.1 1109.2L1647.4 1094.6L1648.8 1126.5L1650.1 1051.8L1651.5 1070.8L1652.9 1010.5L1654.2 1043.5L1655.6 1043.5L1657.0 1043.5L1658.3 1070.8L1659.7 1051.8L1661.0 1094.6L1662.4 1036.0L1663.8 1094.6L1665.1 1070.8L1666.5 1109.2L1667.9 1082.0L1669.2 1109.2L1670.6 1051.8L1671.9 1070.8L1673.3 1147.6L1674.7 1094.6L1676.0 1109.2L1677.4 1043.5L1678.8 1036.0L1680.1 1094.6L1681.5 1070.8L1682.8 1060.8L1684.2 1043.5L1685.6 1082.0L1686.9 1109.2L1688.3 1082.0L1689.7 1028.9L1691.0 1036.0L1692.4 1043.5L1693.7 1060.8L1695.1 1070.8L1696.5 1051.8L1697.8 1036.0L1699.2 1082.0L1700.6 1060.8L1701.9 1060.8L1703.3 1070.8L1704.6 1070.8L1706.0 1060.8L1707.4 1094.6L1708.7 1043.5L1710.1 1060.8L1711.5 1082.0L1712.8 1109.2L1714.2 1070.8L1715.5 1036.0L1716.9 1060.8L1718.3 1060.8L1719.6 1060.8L1721.0 1022.4L1722.3 1060.8L1723.7 1082.0L1725.1 1174.9L1726.4 1082.0L1727.8 1022.4L1729.2 1051.8L1730.5 1147.6L1731.9 1022.4L1733.2 1028.9L1734.6 1051.8L1736.0 1109.2L1737.3 1126.5L1738.7 1070.8L1740.1 1070.8L1741.4 1051.8L1742.8 1094.6L1744.1 1060.8L1745.5 1082.0L1746.9 1060.8L1748.2 1060.8L1749.6 1094.6L1751.0 1094.6L1752.3 1036.0L1753.7 1174.9L1755.0 1060.8L1756.4 1109.2L1757.8 1060.8L1759.1 1126.5L1760.5 1051.8L1761.9 1070.8L1763.2 1051.8L1764.6 1036.0L1765.9 1126.5L1767.3 1109.2L1768.7 1070.8L1770.0 1060.8L1771.4 1051.8L1772.8 1060.8L1774.1 981.9L1775.5 1094.6L1776.8 1051.8L1778.2 1082.0L1779.6 1094.6L1780.9 1051.8L1782.3 1043.5L1783.7 1126.5L1785.0 1082.0L1786.4 1082.0L1787.7 1109.2L1789.1 1010.5L1790.5 1060.8L1791.8 1051.8L1793.2 1036.0L1794.6 1043.5L1795.9 1109.2L1797.3 1126.5L1798.6 1109.2L1800.0 1094.6L1801.4 1082.0L1802.7 1109.2L1804.1 1010.5L1805.5 1051.8L1806.8 1060.8L1808.2 1070.8L1809.5 1070.8L1810.9 1126.5L1812.3 1043.5L1813.6 1174.9L1815.0 1028.9L1816.4 1070.8L1817.7 1036.0L1819.1 1082.0L1820.4 1060.8L1821.8 1070.8L1823.2 1109.2L1824.5 1022.4L1825.9 1070.8L1827.3 1022.4L1828.6 1126.5L1830.0 1051.8L1831.3 1094.6L1832.7 1109.2L1834.1 1043.5L1835.4 1082.0L1836.8 1174.9L1838.1 1051.8L1839.5 1060.8L1840.9 1200.0L1842.2 1051.8L1843.6 1060.8L1845.0 1051.8L1846.3 1109.2L1847.7 1094.6L1849.0 1070.8L1850.4 1060.8L1851.8 1060.8L1853.1 1126.5L1854.5 1028.9L1855.9 1109.2L1857.2 1060.8L1858.6 1126.5L1859.9 1036.0L1861.3 1070.8L1862.7 1082.0L1864.0 1005.1L1865.4 1174.9L1866.8 1082.0L1868.1 1070.8L1869.5 1051.8L1870.8 1070.8L1872.2 1043.5L1873.6 1109.2L1874.9 1094.6L1876.3 1147.6L1877.7 1109.2L1879.0 1060.8L1880.4 1126.5L1881.7 1126.5L1883.1 1082.0L1884.5 1060.8L1885.8 1070.8L1887.2 1028.9L1888.6 1082.0L1889.9 1174.9L1891.3 1070.8L1892.6 1094.6L1894.0 1082.0L1895.4 1070.8L1896.7 1028.9L1898.1 1126.5L1899.5 1082.0L1900.8 1082.0L1902.2 1109.2L1903.5 1051.8L1904.9 1060.8L1906.3 1036.0L1907.6 1082.0L1909.0 1010.5L1910.4 1060.8L1911.7 1036.0L1913.1 1060.8L1914.4 1126.5L1915.8 1094.6L1917.2 1070.8L1918.5 1043.5L1919.9 1028.9L1921.3 1051.8L1922.6 1070.8L1924.0 1043.5L1925.3 1070.8L1926.7 1036.0L1928.1 1028.9L1929.4 1109.2L1930.8 1094.6L1932.2 1028.9L1933.5 1082.0L1934.9 1051.8L1936.2 1060.8L1937.6 1109.2L1939.0 1082.0L1940.3 1051.8L1941.7 1028.9L1943.0 1094.6L1944.4 1126.5L1945.8 1070.8L1947.1 1028.9L1948.5 1060.8L1949.9 1147.6L1951.2 1070.8L1952.6 1070.8L1953.9 1016.3L1955.3 1060.8L1956.7 1109.2L1958.0 1010.5L1959.4 1094.6L1960.8 1126.5L1962.1 1060.8L1963.5 1094.6L1964.8 1051.8L1966.2 1051.8L1967.6 1082.0L1968.9 1094.6L1970.3 1094.6L1971.7 1082.0L1973.0 1043.5L1974.4 1043.5L1975.7 1036.0L1977.1 1028.9L1978.5 1109.2L1979.8 1082.0L1981.2 1070.8L1982.6 1028.9L1983.9 1070.8L1985.3 1028.9L1986.6 1036.0L1988.0 1043.5L1989.4 1070.8L1990.7 1028.9L1992.1 1043.5L1993.5 1051.8L1994.8 1070.8L1996.2 1043.5L1997.5 1060.8L1998.9 1060.8L2000.3 1094.6L2001.6 1109.2L2003.0 1036.0L2004.4 1082.0L2005.7 1082.0L2007.1 1043.5L2008.4 1028.9L2009.8 1070.8L2011.2 1070.8L2012.5 1051.8L2013.9 1060.8L2015.3 1109.2L2016.6 1070.8L2018.0 1036.0L2019.3 1200.0L2020.7 1082.0L2022.1 1094.6L2023.4 1147.6L2024.8 1028.9L2026.2 1094.6L2027.5 1043.5L2028.9 1060.8L2030.2 1028.9L2031.6 1036.0L2033.0 1028.9L2034.3 1109.2L2035.7 1082.0L2037.1 1094.6L2038.4 1005.1L2039.8 1022.4L2041.1 1051.8L2042.5 1109.2" stroke="#008000"/>
</g>
<g font-size="85">
<text x="371" y="203" textLength="316.25" lengthAdjust="spacing">SIO-113</text>
<text x="446.9" y="326">n=<tspan dx="0" font-size="68" textLength="67" lengthAdjust="spacingAndGlyphs" style="font-family:NanumGothic,'Liberation Sans',sans-serif">∞</tspan></text>
<text x="849.8" y="202" textLength="175.3" lengthAdjust="spacing">STO</text>
<text x="429.9" y="433">(002)</text>
<text x="1204.5" y="369.4">0 cm</text>
<text x="1201.8" y="473.5" textLength="186.7" lengthAdjust="spacing">2 cm</text>
<text x="1201.3" y="578" textLength="260.1" lengthAdjust="spacing">2.4 cm</text>
<text x="1202.7" y="683" textLength="185.8" lengthAdjust="spacing">4 cm</text>
</g>
<g font-size="85" text-anchor="middle">
<text x="408.1" y="1217">42</text><text x="680.5" y="1217">45</text><text x="952.9" y="1217">48</text><text x="1225.3" y="1217">51</text><text x="1497.7" y="1217">54</text><text x="1770.1" y="1217">57</text><text x="2042.5" y="1217">60</text>
</g>
<g stroke-width="6" stroke-linecap="round">
<line x1="989" y1="339" x2="1180" y2="339" stroke="#000"/>
<line x1="989" y1="443.7" x2="1180" y2="443.7" stroke="#00f"/>
<line x1="989" y1="548.9" x2="1180" y2="548.9" stroke="#f00"/>
<line x1="989" y1="653.2" x2="1180" y2="653.2" stroke="#008000"/>
</g>
<text y="1359" font-size="113"><tspan x="945.9">2</tspan><tspan dx="1.7" font-size="104" textLength="56.7" lengthAdjust="spacingAndGlyphs" style="font-family:'Liberation Serif',serif">θ</tspan><tspan> </tspan><tspan x="1095.7">(</tspan><tspan x="1133.9">d</tspan><tspan x="1197.55">e</tspan><tspan x="1260.2">g</tspan><tspan x="1328.75">)</tspan></text>
<text transform="translate(121.3,904) rotate(-90)" x="0" y="0" font-size="112" textLength="721.5" lengthAdjust="spacing" id="t_yt">Intensity (a.u.)</text>
</svg>
</body></html>
